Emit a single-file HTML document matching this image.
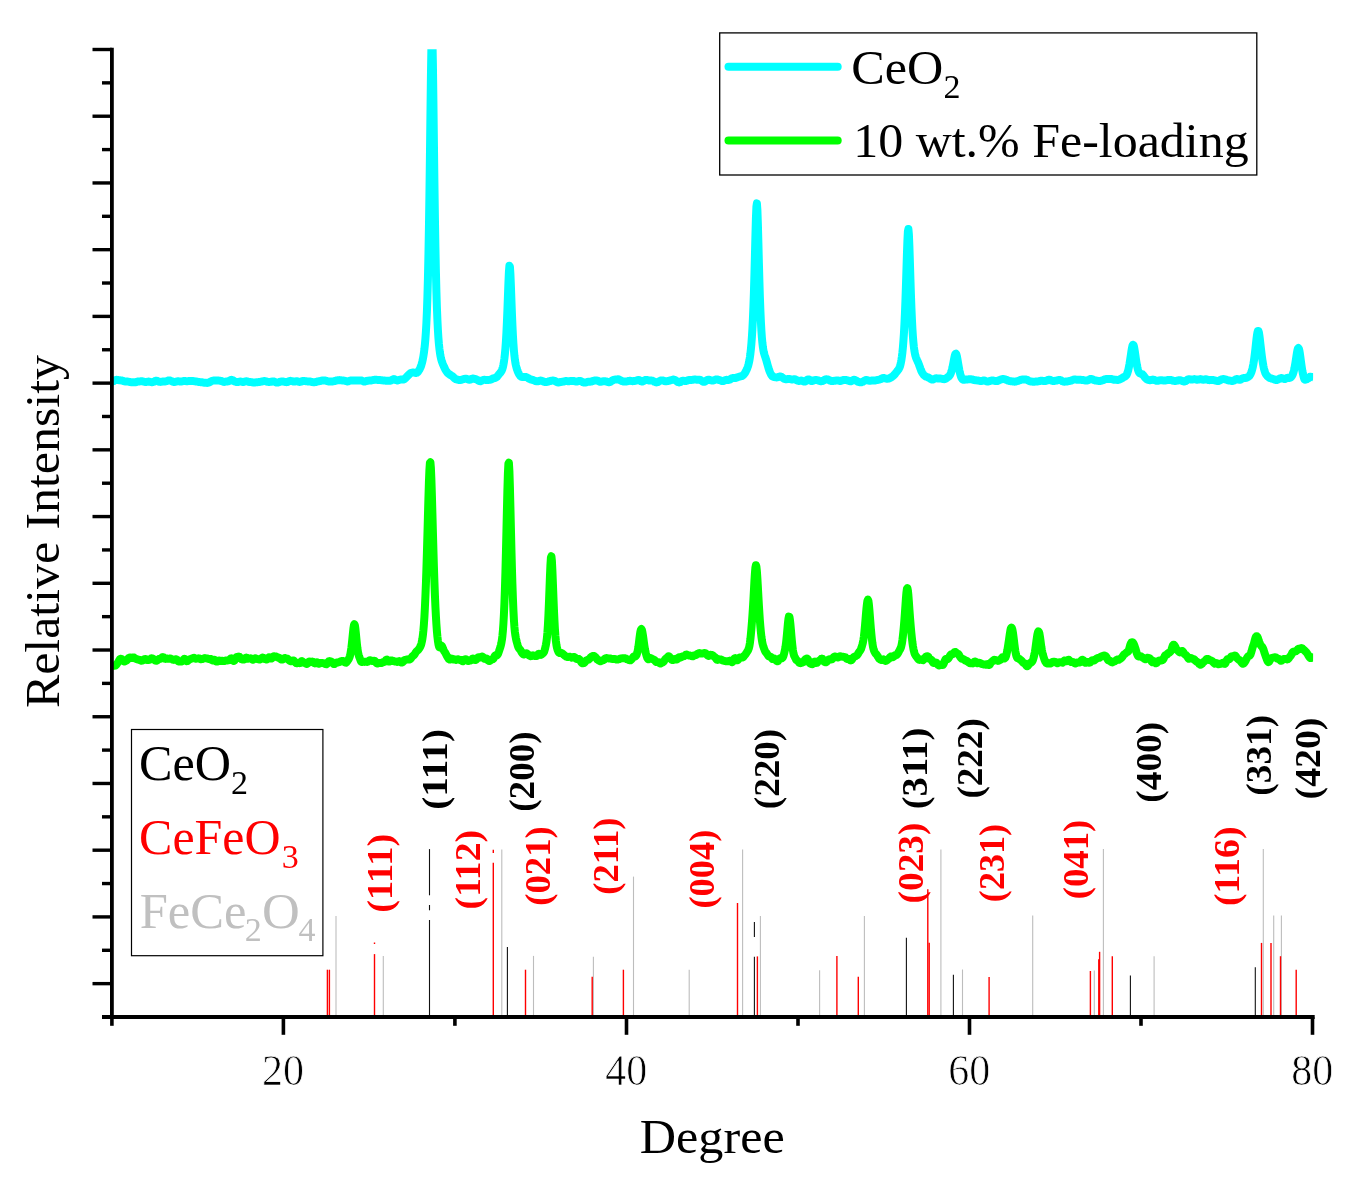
<!DOCTYPE html>
<html><head><meta charset="utf-8"><title>XRD</title>
<style>html,body{margin:0;padding:0;background:#fff}svg{display:block}</style></head>
<body>
<svg width="1351" height="1186" viewBox="0 0 1351 1186">
<rect width="1351" height="1186" fill="#fff"/>
<defs><clipPath id="pc"><rect x="111.9" y="49.2" width="1201.2" height="967.8"/></clipPath></defs>
<g stroke="#bdbdbd" stroke-width="1.1">
<line x1="336" y1="916.1" x2="336" y2="1017.0"/>
<line x1="383.3" y1="955.9" x2="383.3" y2="1017.0"/>
<line x1="501.8" y1="849.4" x2="501.8" y2="1017.0"/>
<line x1="533.5" y1="955.9" x2="533.5" y2="1017.0"/>
<line x1="593.4" y1="956.7" x2="593.4" y2="1017.0"/>
<line x1="633.5" y1="876.6" x2="633.5" y2="1017.0"/>
<line x1="689.2" y1="969.7" x2="689.2" y2="1017.0"/>
<line x1="742.6" y1="849.4" x2="742.6" y2="1017.0"/>
<line x1="760.4" y1="916.1" x2="760.4" y2="1017.0"/>
<line x1="819.6" y1="970.2" x2="819.6" y2="1017.0"/>
<line x1="864.4" y1="916.1" x2="864.4" y2="1017.0"/>
<line x1="940.9" y1="849.4" x2="940.9" y2="1017.0"/>
<line x1="962.5" y1="969.5" x2="962.5" y2="1017.0"/>
<line x1="1032.7" y1="915.6" x2="1032.7" y2="1017.0"/>
<line x1="1094.3" y1="970.4" x2="1094.3" y2="1017.0"/>
<line x1="1103.4" y1="849" x2="1103.4" y2="1017.0"/>
<line x1="1154.1" y1="956.2" x2="1154.1" y2="1017.0"/>
<line x1="1263.3" y1="849" x2="1263.3" y2="1017.0"/>
<line x1="1273.7" y1="915.6" x2="1273.7" y2="1017.0"/>
<line x1="1281.4" y1="915.6" x2="1281.4" y2="1017.0"/>
</g>
<g stroke="#111" stroke-width="1.1">
<line x1="429.5" y1="849.1" x2="429.5" y2="895.3"/>
<line x1="429.5" y1="905" x2="429.5" y2="910.3"/>
<line x1="429.5" y1="920" x2="429.5" y2="1016"/>
<line x1="507.4" y1="947.1" x2="507.4" y2="1016"/>
<line x1="754.4" y1="921.9" x2="754.4" y2="937"/>
<line x1="754.4" y1="956.7" x2="754.4" y2="1016"/>
<line x1="906.4" y1="937.8" x2="906.4" y2="1016"/>
<line x1="953.4" y1="974.8" x2="953.4" y2="1016"/>
<line x1="1130.4" y1="975.4" x2="1130.4" y2="1016"/>
<line x1="1255.3" y1="967.2" x2="1255.3" y2="1016"/>
</g>
<g stroke="#ff0000" stroke-width="1.4">
<line x1="327.4" y1="969.7" x2="327.4" y2="1017.0"/>
<line x1="329.4" y1="969.7" x2="329.4" y2="1017.0"/>
<line x1="374.5" y1="954.1" x2="374.5" y2="1017.0"/>
<line x1="493.3" y1="862.8" x2="493.3" y2="1017.0"/>
<line x1="525.5" y1="969.7" x2="525.5" y2="1017.0"/>
<line x1="592.2" y1="976.8" x2="592.2" y2="1017.0"/>
<line x1="623.4" y1="969.7" x2="623.4" y2="1017.0"/>
<line x1="737.5" y1="903" x2="737.5" y2="1017.0"/>
<line x1="757.4" y1="956.4" x2="757.4" y2="1017.0"/>
<line x1="836.9" y1="955.9" x2="836.9" y2="1017.0"/>
<line x1="858.3" y1="976.8" x2="858.3" y2="1017.0"/>
<line x1="927.8" y1="889.2" x2="927.8" y2="1017.0"/>
<line x1="929.2" y1="942.8" x2="929.2" y2="1017.0"/>
<line x1="989.1" y1="976.9" x2="989.1" y2="1017.0"/>
<line x1="1090.4" y1="971" x2="1090.4" y2="1017.0"/>
<line x1="1098.8" y1="959.2" x2="1098.8" y2="1017.0"/>
<line x1="1099.6" y1="951.8" x2="1099.6" y2="1017.0"/>
<line x1="1112.3" y1="956.2" x2="1112.3" y2="1017.0"/>
<line x1="1261.5" y1="942.9" x2="1261.5" y2="1017.0"/>
<line x1="1271" y1="942.9" x2="1271" y2="1017.0"/>
<line x1="1280.5" y1="956.2" x2="1280.5" y2="1017.0"/>
<line x1="1296.2" y1="969.8" x2="1296.2" y2="1017.0"/>
<line x1="493.3" y1="849.7" x2="493.3" y2="853"/><line x1="374.5" y1="942.5" x2="374.5" y2="944"/>
</g>
<g clip-path="url(#pc)" fill="none" stroke-width="8" stroke-linejoin="round" stroke-linecap="butt">
<path stroke="#00ffff" d="M111.9 381.6 L112.4 381.5 L112.9 381.4 L113.4 381.2 L113.9 380.9 L114.4 380.6 L114.9 380.3 L115.4 380.1 L115.9 379.9 L116.4 379.8 L116.9 379.8 L117.4 379.9 L117.9 380.0 L118.4 380.1 L118.9 380.2 L119.4 380.3 L119.9 380.3 L120.4 380.3 L120.9 380.4 L121.4 380.4 L121.9 380.5 L122.4 380.6 L122.9 380.8 L123.4 381.0 L123.9 381.1 L124.4 381.3 L124.9 381.4 L125.4 381.5 L125.9 381.6 L126.4 381.6 L126.9 381.6 L127.4 381.6 L127.9 381.6 L128.4 381.7 L128.9 381.8 L129.4 381.9 L129.9 382.0 L130.4 382.1 L130.9 382.2 L131.4 382.3 L131.9 382.3 L132.4 382.3 L132.9 382.3 L133.4 382.3 L133.9 382.3 L134.4 382.3 L134.9 382.3 L135.4 382.3 L135.9 382.1 L136.4 382.0 L136.9 381.8 L137.4 381.6 L137.9 381.5 L138.4 381.4 L138.9 381.4 L139.4 381.4 L139.9 381.4 L140.4 381.3 L140.9 381.3 L141.4 381.2 L141.9 381.2 L142.4 381.3 L142.9 381.4 L143.4 381.6 L143.9 381.7 L144.4 381.8 L144.9 381.9 L145.4 382.0 L145.9 382.0 L146.4 381.9 L146.9 381.8 L147.4 381.8 L147.9 381.7 L148.4 381.6 L148.9 381.6 L149.4 381.7 L149.9 381.8 L150.4 381.9 L150.9 382.1 L151.4 382.2 L151.9 382.2 L152.4 382.2 L152.9 382.1 L153.4 381.9 L153.9 381.7 L154.4 381.4 L154.9 381.1 L155.4 380.8 L155.9 380.7 L156.4 380.7 L156.9 380.8 L157.4 381.0 L157.9 381.2 L158.4 381.5 L158.9 381.6 L159.4 381.8 L159.9 381.8 L160.4 381.9 L160.9 381.8 L161.4 381.8 L161.9 381.7 L162.4 381.6 L162.9 381.6 L163.4 381.5 L163.9 381.4 L164.4 381.4 L164.9 381.4 L165.4 381.4 L165.9 381.3 L166.4 381.2 L166.9 381.1 L167.4 380.9 L167.9 380.7 L168.4 380.5 L168.9 380.4 L169.4 380.4 L169.9 380.5 L170.4 380.7 L170.9 380.9 L171.4 381.1 L171.9 381.3 L172.4 381.5 L172.9 381.7 L173.4 381.9 L173.9 382.0 L174.4 382.0 L174.9 381.9 L175.4 381.8 L175.9 381.7 L176.4 381.6 L176.9 381.4 L177.4 381.3 L177.9 381.3 L178.4 381.3 L178.9 381.3 L179.4 381.4 L179.9 381.5 L180.4 381.5 L180.9 381.5 L181.4 381.5 L181.9 381.4 L182.4 381.3 L182.9 381.2 L183.4 381.1 L183.9 381.0 L184.4 381.0 L184.9 381.0 L185.4 381.1 L185.9 381.2 L186.4 381.2 L186.9 381.3 L187.4 381.2 L187.9 381.2 L188.4 381.1 L188.9 381.1 L189.4 381.0 L189.9 381.0 L190.4 381.1 L190.9 381.1 L191.4 381.1 L191.9 381.1 L192.4 381.1 L192.9 381.1 L193.4 381.1 L193.9 381.2 L194.4 381.2 L194.9 381.3 L195.4 381.4 L195.9 381.5 L196.4 381.5 L196.9 381.6 L197.4 381.7 L197.9 381.8 L198.4 381.9 L198.9 382.0 L199.4 382.1 L199.9 382.1 L200.4 382.2 L200.9 382.2 L201.4 382.2 L201.9 382.2 L202.4 382.3 L202.9 382.4 L203.4 382.6 L203.9 382.7 L204.4 382.8 L204.9 382.8 L205.4 382.8 L205.9 382.8 L206.4 382.8 L206.9 382.9 L207.4 382.9 L207.9 382.8 L208.4 382.7 L208.9 382.6 L209.4 382.3 L209.9 382.0 L210.4 381.7 L210.9 381.4 L211.4 381.1 L211.9 380.9 L212.4 380.8 L212.9 380.7 L213.4 380.6 L213.9 380.6 L214.4 380.6 L214.9 380.5 L215.4 380.5 L215.9 380.4 L216.4 380.4 L216.9 380.4 L217.4 380.4 L217.9 380.5 L218.4 380.6 L218.9 380.6 L219.4 380.7 L219.9 380.7 L220.4 380.8 L220.9 380.9 L221.4 381.0 L221.9 381.2 L222.4 381.4 L222.9 381.6 L223.4 381.8 L223.9 381.9 L224.4 381.9 L224.9 381.8 L225.4 381.7 L225.9 381.6 L226.4 381.5 L226.9 381.5 L227.4 381.4 L227.9 381.4 L228.4 381.3 L228.9 381.1 L229.4 380.8 L229.9 380.4 L230.4 380.1 L230.9 379.9 L231.4 379.8 L231.9 379.9 L232.4 380.1 L232.9 380.3 L233.4 380.7 L233.9 381.0 L234.4 381.3 L234.9 381.5 L235.4 381.7 L235.9 381.9 L236.4 382.0 L236.9 382.0 L237.4 382.0 L237.9 382.0 L238.4 381.9 L238.9 381.8 L239.4 381.7 L239.9 381.6 L240.4 381.6 L240.9 381.6 L241.4 381.7 L241.9 381.8 L242.4 381.9 L242.9 382.0 L243.4 382.0 L243.9 381.9 L244.4 381.7 L244.9 381.6 L245.4 381.4 L245.9 381.3 L246.4 381.3 L246.9 381.3 L247.4 381.4 L247.9 381.6 L248.4 381.8 L248.9 381.9 L249.4 382.0 L249.9 382.1 L250.4 382.1 L250.9 382.1 L251.4 382.2 L251.9 382.2 L252.4 382.3 L252.9 382.4 L253.4 382.5 L253.9 382.5 L254.4 382.5 L254.9 382.4 L255.4 382.4 L255.9 382.3 L256.4 382.3 L256.9 382.3 L257.4 382.2 L257.9 382.2 L258.4 382.1 L258.9 382.1 L259.4 382.0 L259.9 381.9 L260.4 381.8 L260.9 381.7 L261.4 381.6 L261.9 381.5 L262.4 381.4 L262.9 381.3 L263.4 381.2 L263.9 381.1 L264.4 381.1 L264.9 381.1 L265.4 381.2 L265.9 381.3 L266.4 381.5 L266.9 381.6 L267.4 381.8 L267.9 381.8 L268.4 381.9 L268.9 381.9 L269.4 381.9 L269.9 381.9 L270.4 381.8 L270.9 381.8 L271.4 381.8 L271.9 381.6 L272.4 381.5 L272.9 381.4 L273.4 381.4 L273.9 381.5 L274.4 381.6 L274.9 381.9 L275.4 382.1 L275.9 382.4 L276.4 382.6 L276.9 382.6 L277.4 382.6 L277.9 382.5 L278.4 382.3 L278.9 382.1 L279.4 382.0 L279.9 381.8 L280.4 381.7 L280.9 381.6 L281.4 381.6 L281.9 381.5 L282.4 381.5 L282.9 381.5 L283.4 381.6 L283.9 381.7 L284.4 381.8 L284.9 381.9 L285.4 382.0 L285.9 382.1 L286.4 382.2 L286.9 382.1 L287.4 382.0 L287.9 381.8 L288.4 381.5 L288.9 381.3 L289.4 381.1 L289.9 380.9 L290.4 380.8 L290.9 380.9 L291.4 380.9 L291.9 381.1 L292.4 381.2 L292.9 381.3 L293.4 381.5 L293.9 381.6 L294.4 381.6 L294.9 381.5 L295.4 381.4 L295.9 381.3 L296.4 381.2 L296.9 381.2 L297.4 381.3 L297.9 381.5 L298.4 381.6 L298.9 381.8 L299.4 381.9 L299.9 381.9 L300.4 381.8 L300.9 381.7 L301.4 381.5 L301.9 381.2 L302.4 381.1 L302.9 381.0 L303.4 381.0 L303.9 381.0 L304.4 381.1 L304.9 381.1 L305.4 381.2 L305.9 381.2 L306.4 381.3 L306.9 381.3 L307.4 381.4 L307.9 381.4 L308.4 381.4 L308.9 381.5 L309.4 381.5 L309.9 381.5 L310.4 381.6 L310.9 381.7 L311.4 381.8 L311.9 382.0 L312.4 382.1 L312.9 382.2 L313.4 382.2 L313.9 382.3 L314.4 382.2 L314.9 382.2 L315.4 382.1 L315.9 382.0 L316.4 381.8 L316.9 381.6 L317.4 381.5 L317.9 381.4 L318.4 381.3 L318.9 381.2 L319.4 381.2 L319.9 381.1 L320.4 381.0 L320.9 380.9 L321.4 380.7 L321.9 380.6 L322.4 380.5 L322.9 380.4 L323.4 380.4 L323.9 380.4 L324.4 380.4 L324.9 380.5 L325.4 380.6 L325.9 380.7 L326.4 380.8 L326.9 381.0 L327.4 381.1 L327.9 381.3 L328.4 381.4 L328.9 381.5 L329.4 381.5 L329.9 381.6 L330.4 381.5 L330.9 381.5 L331.4 381.5 L331.9 381.5 L332.4 381.4 L332.9 381.4 L333.4 381.3 L333.9 381.2 L334.4 381.1 L334.9 381.0 L335.4 380.8 L335.9 380.7 L336.4 380.5 L336.9 380.4 L337.4 380.3 L337.9 380.2 L338.4 380.2 L338.9 380.2 L339.4 380.1 L339.9 380.2 L340.4 380.2 L340.9 380.3 L341.4 380.3 L341.9 380.4 L342.4 380.5 L342.9 380.5 L343.4 380.6 L343.9 380.6 L344.4 380.7 L344.9 380.8 L345.4 380.9 L345.9 381.1 L346.4 381.2 L346.9 381.4 L347.4 381.4 L347.9 381.4 L348.4 381.3 L348.9 381.1 L349.4 380.9 L349.9 380.7 L350.4 380.6 L350.9 380.5 L351.4 380.5 L351.9 380.5 L352.4 380.5 L352.9 380.4 L353.4 380.4 L353.9 380.4 L354.4 380.4 L354.9 380.4 L355.4 380.4 L355.9 380.4 L356.4 380.5 L356.9 380.5 L357.4 380.6 L357.9 380.6 L358.4 380.6 L358.9 380.6 L359.4 380.5 L359.9 380.5 L360.4 380.4 L360.9 380.4 L361.4 380.5 L361.9 380.7 L362.4 380.9 L362.9 381.1 L363.4 381.3 L363.9 381.5 L364.4 381.5 L364.9 381.5 L365.4 381.4 L365.9 381.2 L366.4 381.0 L366.9 380.9 L367.4 380.7 L367.9 380.7 L368.4 380.7 L368.9 380.6 L369.4 380.6 L369.9 380.6 L370.4 380.5 L370.9 380.5 L371.4 380.4 L371.9 380.3 L372.4 380.2 L372.9 380.1 L373.4 380.0 L373.9 379.9 L374.4 379.8 L374.9 379.7 L375.4 379.7 L375.9 379.7 L376.4 379.8 L376.9 379.8 L377.4 379.9 L377.9 380.0 L378.4 380.0 L378.9 380.0 L379.4 380.0 L379.9 380.1 L380.4 380.1 L380.9 380.2 L381.4 380.2 L381.9 380.3 L382.4 380.3 L382.9 380.4 L383.4 380.4 L383.9 380.5 L384.4 380.5 L384.9 380.6 L385.4 380.7 L385.9 380.7 L386.4 380.7 L386.9 380.8 L387.4 380.8 L387.9 380.8 L388.4 380.8 L388.9 380.8 L389.4 380.8 L389.9 380.8 L390.4 380.7 L390.9 380.6 L391.4 380.3 L391.9 380.0 L392.4 379.7 L392.9 379.4 L393.4 379.2 L393.9 379.1 L394.4 379.2 L394.9 379.4 L395.4 379.6 L395.9 379.9 L396.4 380.2 L396.9 380.4 L397.4 380.5 L397.9 380.4 L398.4 380.2 L398.9 380.0 L399.4 379.8 L399.9 379.7 L400.4 379.6 L400.9 379.6 L401.4 379.6 L401.9 379.6 L402.4 379.6 L402.9 379.6 L403.4 379.5 L403.9 379.3 L404.4 379.0 L404.9 378.7 L405.4 378.2 L405.9 377.8 L406.4 377.2 L406.9 376.7 L407.4 376.2 L407.9 375.7 L408.4 375.2 L408.9 374.6 L409.4 374.1 L409.9 373.7 L410.4 373.3 L410.9 373.0 L411.4 372.8 L411.9 372.7 L412.4 372.6 L412.9 372.6 L413.4 372.6 L413.9 372.6 L414.4 372.7 L414.9 372.8 L415.4 372.9 L415.9 373.0 L416.4 372.9 L416.9 372.7 L417.4 372.4 L417.9 371.9 L418.4 371.2 L418.9 370.5 L419.4 369.7 L419.9 368.7 L420.4 367.6 L420.9 366.4 L421.4 364.9 L421.9 363.2 L422.4 361.2 L422.9 358.9 L423.4 356.1 L423.9 352.9 L424.4 349.1 L424.9 344.5 L425.4 338.8 L425.9 331.8 L426.4 322.9 L426.9 311.7 L427.4 297.4 L427.9 279.4 L428.4 256.9 L428.9 229.2 L429.4 196.2 L429.9 158.2 L430.4 117.3 L430.9 77.8 L431.4 46.8 L431.9 32.1 L432.4 38.4 L432.9 63.6 L433.4 100.6 L433.9 141.6 L434.4 181.2 L434.9 216.5 L435.4 246.6 L435.9 271.4 L436.4 291.4 L436.9 307.3 L437.4 319.9 L437.9 329.9 L438.4 337.7 L438.9 343.9 L439.4 348.7 L439.9 352.5 L440.4 355.6 L440.9 358.0 L441.4 360.0 L441.9 361.6 L442.4 363.0 L442.9 364.3 L443.4 365.4 L443.9 366.5 L444.4 367.6 L444.9 368.6 L445.4 369.6 L445.9 370.5 L446.4 371.3 L446.9 372.0 L447.4 372.7 L447.9 373.2 L448.4 373.6 L448.9 374.0 L449.4 374.3 L449.9 374.7 L450.4 375.0 L450.9 375.3 L451.4 375.6 L451.9 375.9 L452.4 376.2 L452.9 376.7 L453.4 377.1 L453.9 377.6 L454.4 378.1 L454.9 378.6 L455.4 378.9 L455.9 379.2 L456.4 379.4 L456.9 379.5 L457.4 379.6 L457.9 379.7 L458.4 379.9 L458.9 380.0 L459.4 380.1 L459.9 380.1 L460.4 380.0 L460.9 379.9 L461.4 379.8 L461.9 379.6 L462.4 379.4 L462.9 379.3 L463.4 379.1 L463.9 379.0 L464.4 378.9 L464.9 378.8 L465.4 378.7 L465.9 378.7 L466.4 378.7 L466.9 378.9 L467.4 379.1 L467.9 379.3 L468.4 379.6 L468.9 379.7 L469.4 379.8 L469.9 379.7 L470.4 379.5 L470.9 379.2 L471.4 379.0 L471.9 378.8 L472.4 378.6 L472.9 378.6 L473.4 378.6 L473.9 378.7 L474.4 378.8 L474.9 379.0 L475.4 379.1 L475.9 379.2 L476.4 379.4 L476.9 379.6 L477.4 379.9 L477.9 380.2 L478.4 380.6 L478.9 380.9 L479.4 381.1 L479.9 381.2 L480.4 381.2 L480.9 381.0 L481.4 380.8 L481.9 380.5 L482.4 380.3 L482.9 380.1 L483.4 379.9 L483.9 379.8 L484.4 379.8 L484.9 379.8 L485.4 379.9 L485.9 380.0 L486.4 380.0 L486.9 380.0 L487.4 380.0 L487.9 380.0 L488.4 379.9 L488.9 379.9 L489.4 379.8 L489.9 379.8 L490.4 379.7 L490.9 379.5 L491.4 379.3 L491.9 379.0 L492.4 378.8 L492.9 378.5 L493.4 378.3 L493.9 378.2 L494.4 378.1 L494.9 378.0 L495.4 377.8 L495.9 377.6 L496.4 377.2 L496.9 376.8 L497.4 376.3 L497.9 375.7 L498.4 375.0 L498.9 374.4 L499.4 373.8 L499.9 373.2 L500.4 372.7 L500.9 372.0 L501.4 371.2 L501.9 370.2 L502.4 368.8 L502.9 367.1 L503.4 364.8 L503.9 362.0 L504.4 358.5 L504.9 354.0 L505.4 348.5 L505.9 341.5 L506.4 332.9 L506.9 322.5 L507.4 310.3 L507.9 296.8 L508.4 283.3 L508.9 272.1 L509.4 265.8 L509.9 266.6 L510.4 274.0 L510.9 286.0 L511.4 299.7 L511.9 313.0 L512.4 325.0 L512.9 335.2 L513.4 343.6 L513.9 350.3 L514.4 355.6 L514.9 359.7 L515.4 362.9 L515.9 365.4 L516.4 367.4 L516.9 369.1 L517.4 370.5 L517.9 371.8 L518.4 372.9 L518.9 373.9 L519.4 374.8 L519.9 375.5 L520.4 376.1 L520.9 376.5 L521.4 376.8 L521.9 376.9 L522.4 377.0 L522.9 377.0 L523.4 377.0 L523.9 377.0 L524.4 376.9 L524.9 376.9 L525.4 376.9 L525.9 377.0 L526.4 377.1 L526.9 377.4 L527.4 377.6 L527.9 377.9 L528.4 378.2 L528.9 378.6 L529.4 378.9 L529.9 379.1 L530.4 379.3 L530.9 379.5 L531.4 379.6 L531.9 379.7 L532.4 379.8 L532.9 380.0 L533.4 380.2 L533.9 380.4 L534.4 380.6 L534.9 380.8 L535.4 381.0 L535.9 381.2 L536.4 381.3 L536.9 381.3 L537.4 381.3 L537.9 381.3 L538.4 381.2 L538.9 381.0 L539.4 380.9 L539.9 380.7 L540.4 380.6 L540.9 380.6 L541.4 380.7 L541.9 380.8 L542.4 381.1 L542.9 381.3 L543.4 381.5 L543.9 381.7 L544.4 381.9 L544.9 382.0 L545.4 382.1 L545.9 382.1 L546.4 382.0 L546.9 381.9 L547.4 381.8 L547.9 381.6 L548.4 381.5 L548.9 381.3 L549.4 381.2 L549.9 381.1 L550.4 381.0 L550.9 380.8 L551.4 380.7 L551.9 380.7 L552.4 380.6 L552.9 380.6 L553.4 380.6 L553.9 380.7 L554.4 380.8 L554.9 381.0 L555.4 381.2 L555.9 381.5 L556.4 381.8 L556.9 382.1 L557.4 382.3 L557.9 382.4 L558.4 382.5 L558.9 382.4 L559.4 382.3 L559.9 382.1 L560.4 382.0 L560.9 381.9 L561.4 381.9 L561.9 381.8 L562.4 381.7 L562.9 381.7 L563.4 381.6 L563.9 381.5 L564.4 381.3 L564.9 381.2 L565.4 381.1 L565.9 381.1 L566.4 381.1 L566.9 381.1 L567.4 381.2 L567.9 381.2 L568.4 381.3 L568.9 381.3 L569.4 381.2 L569.9 381.1 L570.4 381.1 L570.9 381.0 L571.4 381.0 L571.9 381.0 L572.4 380.9 L572.9 380.9 L573.4 381.0 L573.9 381.1 L574.4 381.1 L574.9 381.3 L575.4 381.4 L575.9 381.4 L576.4 381.5 L576.9 381.5 L577.4 381.4 L577.9 381.3 L578.4 381.1 L578.9 381.0 L579.4 381.0 L579.9 381.0 L580.4 381.0 L580.9 381.2 L581.4 381.4 L581.9 381.6 L582.4 381.9 L582.9 382.2 L583.4 382.4 L583.9 382.6 L584.4 382.6 L584.9 382.6 L585.4 382.6 L585.9 382.4 L586.4 382.3 L586.9 382.1 L587.4 381.9 L587.9 381.8 L588.4 381.7 L588.9 381.7 L589.4 381.7 L589.9 381.7 L590.4 381.7 L590.9 381.6 L591.4 381.5 L591.9 381.3 L592.4 381.2 L592.9 381.0 L593.4 380.8 L593.9 380.7 L594.4 380.6 L594.9 380.5 L595.4 380.4 L595.9 380.4 L596.4 380.4 L596.9 380.4 L597.4 380.6 L597.9 380.8 L598.4 381.1 L598.9 381.3 L599.4 381.5 L599.9 381.7 L600.4 381.7 L600.9 381.7 L601.4 381.7 L601.9 381.6 L602.4 381.4 L602.9 381.3 L603.4 381.2 L603.9 381.2 L604.4 381.2 L604.9 381.2 L605.4 381.3 L605.9 381.4 L606.4 381.5 L606.9 381.7 L607.4 381.9 L607.9 382.1 L608.4 382.2 L608.9 382.3 L609.4 382.2 L609.9 382.0 L610.4 381.8 L610.9 381.5 L611.4 381.1 L611.9 380.8 L612.4 380.5 L612.9 380.2 L613.4 379.9 L613.9 379.8 L614.4 379.7 L614.9 379.6 L615.4 379.6 L615.9 379.5 L616.4 379.4 L616.9 379.4 L617.4 379.3 L617.9 379.3 L618.4 379.3 L618.9 379.5 L619.4 379.7 L619.9 380.0 L620.4 380.2 L620.9 380.5 L621.4 380.7 L621.9 381.0 L622.4 381.2 L622.9 381.4 L623.4 381.5 L623.9 381.6 L624.4 381.6 L624.9 381.6 L625.4 381.6 L625.9 381.5 L626.4 381.4 L626.9 381.4 L627.4 381.3 L627.9 381.2 L628.4 381.0 L628.9 380.9 L629.4 380.8 L629.9 380.8 L630.4 380.8 L630.9 380.9 L631.4 381.0 L631.9 381.1 L632.4 381.2 L632.9 381.2 L633.4 381.1 L633.9 381.1 L634.4 381.0 L634.9 380.9 L635.4 380.8 L635.9 380.7 L636.4 380.6 L636.9 380.4 L637.4 380.2 L637.9 380.1 L638.4 380.0 L638.9 380.0 L639.4 380.2 L639.9 380.5 L640.4 380.9 L640.9 381.2 L641.4 381.4 L641.9 381.5 L642.4 381.5 L642.9 381.3 L643.4 381.1 L643.9 380.8 L644.4 380.5 L644.9 380.2 L645.4 380.0 L645.9 379.9 L646.4 379.9 L646.9 380.0 L647.4 380.1 L647.9 380.2 L648.4 380.4 L648.9 380.4 L649.4 380.5 L649.9 380.5 L650.4 380.5 L650.9 380.4 L651.4 380.5 L651.9 380.5 L652.4 380.7 L652.9 380.9 L653.4 381.1 L653.9 381.4 L654.4 381.7 L654.9 381.9 L655.4 382.1 L655.9 382.3 L656.4 382.4 L656.9 382.3 L657.4 382.2 L657.9 382.0 L658.4 381.7 L658.9 381.4 L659.4 381.1 L659.9 380.9 L660.4 380.7 L660.9 380.5 L661.4 380.4 L661.9 380.4 L662.4 380.4 L662.9 380.5 L663.4 380.7 L663.9 380.9 L664.4 381.0 L664.9 381.2 L665.4 381.3 L665.9 381.3 L666.4 381.3 L666.9 381.2 L667.4 381.1 L667.9 381.0 L668.4 380.9 L668.9 380.8 L669.4 380.7 L669.9 380.5 L670.4 380.4 L670.9 380.2 L671.4 380.1 L671.9 379.9 L672.4 379.8 L672.9 379.6 L673.4 379.6 L673.9 379.6 L674.4 379.8 L674.9 380.0 L675.4 380.3 L675.9 380.6 L676.4 381.0 L676.9 381.3 L677.4 381.7 L677.9 382.0 L678.4 382.2 L678.9 382.4 L679.4 382.4 L679.9 382.2 L680.4 382.0 L680.9 381.7 L681.4 381.3 L681.9 381.0 L682.4 380.8 L682.9 380.7 L683.4 380.7 L683.9 380.8 L684.4 380.9 L684.9 381.0 L685.4 381.0 L685.9 381.0 L686.4 380.8 L686.9 380.7 L687.4 380.5 L687.9 380.3 L688.4 380.1 L688.9 379.9 L689.4 379.9 L689.9 379.9 L690.4 379.9 L690.9 379.9 L691.4 379.9 L691.9 379.9 L692.4 379.8 L692.9 379.8 L693.4 379.7 L693.9 379.6 L694.4 379.6 L694.9 379.6 L695.4 379.6 L695.9 379.6 L696.4 379.7 L696.9 379.7 L697.4 379.7 L697.9 379.7 L698.4 379.7 L698.9 379.7 L699.4 379.7 L699.9 379.8 L700.4 380.0 L700.9 380.3 L701.4 380.6 L701.9 380.9 L702.4 381.2 L702.9 381.5 L703.4 381.7 L703.9 381.7 L704.4 381.7 L704.9 381.5 L705.4 381.2 L705.9 380.9 L706.4 380.6 L706.9 380.2 L707.4 379.9 L707.9 379.8 L708.4 379.7 L708.9 379.7 L709.4 379.8 L709.9 380.0 L710.4 380.1 L710.9 380.3 L711.4 380.4 L711.9 380.5 L712.4 380.5 L712.9 380.5 L713.4 380.4 L713.9 380.3 L714.4 380.1 L714.9 379.9 L715.4 379.6 L715.9 379.5 L716.4 379.4 L716.9 379.4 L717.4 379.5 L717.9 379.7 L718.4 379.8 L718.9 380.0 L719.4 380.1 L719.9 380.2 L720.4 380.4 L720.9 380.6 L721.4 380.8 L721.9 381.0 L722.4 381.1 L722.9 381.1 L723.4 381.0 L723.9 380.9 L724.4 380.6 L724.9 380.3 L725.4 380.1 L725.9 379.9 L726.4 379.8 L726.9 379.8 L727.4 379.9 L727.9 379.9 L728.4 379.9 L728.9 379.9 L729.4 379.7 L729.9 379.5 L730.4 379.2 L730.9 378.9 L731.4 378.5 L731.9 378.3 L732.4 378.1 L732.9 378.1 L733.4 378.1 L733.9 378.1 L734.4 378.1 L734.9 378.1 L735.4 378.0 L735.9 377.8 L736.4 377.7 L736.9 377.5 L737.4 377.3 L737.9 377.1 L738.4 376.9 L738.9 376.8 L739.4 376.6 L739.9 376.5 L740.4 376.4 L740.9 376.3 L741.4 376.2 L741.9 376.0 L742.4 375.7 L742.9 375.4 L743.4 375.0 L743.9 374.4 L744.4 373.8 L744.9 373.1 L745.4 372.2 L745.9 371.3 L746.4 370.3 L746.9 369.2 L747.4 367.9 L747.9 366.5 L748.4 364.8 L748.9 362.8 L749.4 360.4 L749.9 357.3 L750.4 353.6 L750.9 349.1 L751.4 343.6 L751.9 336.9 L752.4 328.9 L752.9 319.0 L753.4 307.0 L753.9 292.6 L754.4 275.6 L754.9 256.5 L755.4 236.7 L755.9 218.8 L756.4 206.6 L756.9 203.4 L757.4 210.1 L757.9 224.7 L758.4 243.4 L758.9 263.0 L759.4 281.4 L759.9 297.4 L760.4 310.8 L760.9 321.9 L761.4 330.7 L761.9 337.7 L762.4 343.1 L762.9 347.2 L763.4 350.3 L763.9 352.6 L764.4 354.4 L764.9 356.0 L765.4 357.4 L765.9 358.9 L766.4 360.6 L766.9 362.4 L767.4 364.2 L767.9 366.0 L768.4 367.8 L768.9 369.4 L769.4 370.8 L769.9 372.1 L770.4 373.2 L770.9 374.2 L771.4 375.1 L771.9 375.8 L772.4 376.3 L772.9 376.6 L773.4 376.9 L773.9 377.0 L774.4 377.1 L774.9 377.2 L775.4 377.3 L775.9 377.3 L776.4 377.4 L776.9 377.4 L777.4 377.3 L777.9 377.2 L778.4 377.0 L778.9 376.8 L779.4 376.6 L779.9 376.5 L780.4 376.5 L780.9 376.6 L781.4 376.8 L781.9 377.1 L782.4 377.5 L782.9 377.9 L783.4 378.3 L783.9 378.7 L784.4 378.9 L784.9 379.1 L785.4 379.2 L785.9 379.3 L786.4 379.3 L786.9 379.2 L787.4 379.1 L787.9 379.0 L788.4 379.0 L788.9 378.9 L789.4 379.0 L789.9 379.1 L790.4 379.2 L790.9 379.3 L791.4 379.4 L791.9 379.4 L792.4 379.4 L792.9 379.4 L793.4 379.3 L793.9 379.3 L794.4 379.3 L794.9 379.3 L795.4 379.5 L795.9 379.7 L796.4 380.0 L796.9 380.3 L797.4 380.5 L797.9 380.7 L798.4 380.9 L798.9 380.9 L799.4 380.9 L799.9 380.8 L800.4 380.7 L800.9 380.6 L801.4 380.6 L801.9 380.7 L802.4 380.9 L802.9 381.1 L803.4 381.4 L803.9 381.6 L804.4 381.6 L804.9 381.6 L805.4 381.3 L805.9 380.9 L806.4 380.5 L806.9 380.0 L807.4 379.6 L807.9 379.4 L808.4 379.4 L808.9 379.5 L809.4 379.8 L809.9 380.2 L810.4 380.6 L810.9 380.8 L811.4 381.0 L811.9 381.0 L812.4 380.9 L812.9 380.8 L813.4 380.5 L813.9 380.3 L814.4 380.2 L814.9 380.1 L815.4 380.1 L815.9 380.1 L816.4 380.1 L816.9 380.1 L817.4 380.2 L817.9 380.3 L818.4 380.5 L818.9 380.7 L819.4 380.9 L819.9 381.1 L820.4 381.2 L820.9 381.3 L821.4 381.2 L821.9 381.1 L822.4 381.0 L822.9 380.8 L823.4 380.5 L823.9 380.3 L824.4 380.0 L824.9 379.7 L825.4 379.4 L825.9 379.3 L826.4 379.3 L826.9 379.3 L827.4 379.4 L827.9 379.5 L828.4 379.7 L828.9 379.9 L829.4 380.2 L829.9 380.5 L830.4 380.7 L830.9 380.9 L831.4 381.1 L831.9 381.1 L832.4 381.1 L832.9 381.0 L833.4 380.9 L833.9 380.8 L834.4 380.8 L834.9 380.8 L835.4 380.7 L835.9 380.6 L836.4 380.5 L836.9 380.5 L837.4 380.4 L837.9 380.5 L838.4 380.6 L838.9 380.7 L839.4 380.9 L839.9 381.0 L840.4 381.0 L840.9 380.9 L841.4 380.7 L841.9 380.5 L842.4 380.3 L842.9 380.1 L843.4 380.0 L843.9 380.0 L844.4 379.9 L844.9 379.9 L845.4 380.0 L845.9 380.0 L846.4 380.1 L846.9 380.2 L847.4 380.3 L847.9 380.5 L848.4 380.7 L848.9 380.9 L849.4 381.1 L849.9 381.2 L850.4 381.3 L850.9 381.3 L851.4 381.1 L851.9 380.9 L852.4 380.5 L852.9 380.2 L853.4 380.0 L853.9 379.8 L854.4 379.8 L854.9 379.9 L855.4 380.1 L855.9 380.4 L856.4 380.7 L856.9 381.0 L857.4 381.4 L857.9 381.7 L858.4 381.9 L858.9 382.1 L859.4 382.2 L859.9 382.3 L860.4 382.3 L860.9 382.2 L861.4 382.2 L861.9 382.0 L862.4 381.9 L862.9 381.7 L863.4 381.4 L863.9 381.1 L864.4 380.7 L864.9 380.4 L865.4 380.2 L865.9 380.0 L866.4 380.0 L866.9 380.1 L867.4 380.2 L867.9 380.4 L868.4 380.6 L868.9 380.7 L869.4 380.8 L869.9 380.8 L870.4 380.8 L870.9 380.7 L871.4 380.6 L871.9 380.6 L872.4 380.6 L872.9 380.6 L873.4 380.6 L873.9 380.6 L874.4 380.5 L874.9 380.5 L875.4 380.4 L875.9 380.3 L876.4 380.2 L876.9 380.1 L877.4 380.0 L877.9 379.9 L878.4 379.8 L878.9 379.7 L879.4 379.6 L879.9 379.4 L880.4 379.2 L880.9 379.0 L881.4 378.7 L881.9 378.4 L882.4 378.2 L882.9 378.1 L883.4 378.0 L883.9 378.0 L884.4 378.1 L884.9 378.3 L885.4 378.4 L885.9 378.6 L886.4 378.7 L886.9 378.8 L887.4 378.8 L887.9 378.7 L888.4 378.6 L888.9 378.5 L889.4 378.3 L889.9 378.1 L890.4 377.8 L890.9 377.5 L891.4 377.2 L891.9 376.9 L892.4 376.5 L892.9 376.1 L893.4 375.7 L893.9 375.2 L894.4 374.7 L894.9 374.1 L895.4 373.5 L895.9 372.8 L896.4 372.2 L896.9 371.5 L897.4 370.9 L897.9 370.3 L898.4 369.6 L898.9 368.8 L899.4 367.8 L899.9 366.5 L900.4 364.8 L900.9 362.6 L901.4 359.9 L901.9 356.5 L902.4 352.4 L902.9 347.3 L903.4 341.2 L903.9 333.8 L904.4 324.8 L904.9 314.1 L905.4 301.5 L905.9 287.0 L906.4 271.1 L906.9 255.0 L907.4 240.8 L907.9 231.3 L908.4 229.0 L908.9 234.6 L909.4 246.6 L909.9 262.0 L910.4 278.4 L910.9 293.8 L911.4 307.4 L911.9 319.0 L912.4 328.6 L912.9 336.3 L913.4 342.4 L913.9 347.2 L914.4 350.8 L914.9 353.6 L915.4 355.7 L915.9 357.4 L916.4 358.7 L916.9 359.8 L917.4 360.9 L917.9 362.0 L918.4 363.1 L918.9 364.4 L919.4 365.8 L919.9 367.2 L920.4 368.6 L920.9 369.9 L921.4 371.1 L921.9 372.1 L922.4 373.0 L922.9 373.8 L923.4 374.5 L923.9 375.1 L924.4 375.5 L924.9 375.9 L925.4 376.2 L925.9 376.5 L926.4 376.7 L926.9 376.9 L927.4 377.1 L927.9 377.3 L928.4 377.6 L928.9 377.8 L929.4 378.1 L929.9 378.4 L930.4 378.7 L930.9 379.1 L931.4 379.3 L931.9 379.5 L932.4 379.6 L932.9 379.5 L933.4 379.3 L933.9 379.1 L934.4 378.9 L934.9 378.6 L935.4 378.4 L935.9 378.3 L936.4 378.3 L936.9 378.3 L937.4 378.4 L937.9 378.4 L938.4 378.4 L938.9 378.5 L939.4 378.5 L939.9 378.5 L940.4 378.6 L940.9 378.6 L941.4 378.7 L941.9 378.8 L942.4 378.9 L942.9 379.0 L943.4 379.1 L943.9 379.2 L944.4 379.2 L944.9 379.1 L945.4 378.9 L945.9 378.6 L946.4 378.2 L946.9 377.8 L947.4 377.4 L947.9 377.0 L948.4 376.7 L948.9 376.3 L949.4 375.8 L949.9 375.1 L950.4 374.2 L950.9 373.1 L951.4 371.6 L951.9 369.8 L952.4 367.7 L952.9 365.3 L953.4 362.7 L953.9 360.0 L954.4 357.4 L954.9 355.3 L955.4 353.9 L955.9 353.6 L956.4 354.4 L956.9 356.3 L957.4 358.9 L957.9 361.9 L958.4 364.9 L958.9 367.8 L959.4 370.5 L959.9 372.8 L960.4 374.8 L960.9 376.4 L961.4 377.6 L961.9 378.5 L962.4 379.2 L962.9 379.6 L963.4 379.8 L963.9 379.8 L964.4 379.8 L964.9 379.7 L965.4 379.6 L965.9 379.5 L966.4 379.5 L966.9 379.4 L967.4 379.4 L967.9 379.4 L968.4 379.3 L968.9 379.3 L969.4 379.3 L969.9 379.2 L970.4 379.2 L970.9 379.3 L971.4 379.3 L971.9 379.4 L972.4 379.5 L972.9 379.7 L973.4 379.8 L973.9 380.0 L974.4 380.1 L974.9 380.2 L975.4 380.3 L975.9 380.3 L976.4 380.3 L976.9 380.4 L977.4 380.4 L977.9 380.5 L978.4 380.6 L978.9 380.7 L979.4 380.8 L979.9 380.9 L980.4 381.0 L980.9 381.0 L981.4 381.0 L981.9 380.9 L982.4 380.8 L982.9 380.6 L983.4 380.5 L983.9 380.5 L984.4 380.5 L984.9 380.7 L985.4 380.9 L985.9 381.1 L986.4 381.3 L986.9 381.4 L987.4 381.5 L987.9 381.5 L988.4 381.4 L988.9 381.3 L989.4 381.2 L989.9 381.0 L990.4 380.9 L990.9 380.7 L991.4 380.6 L991.9 380.5 L992.4 380.5 L992.9 380.5 L993.4 380.6 L993.9 380.7 L994.4 380.8 L994.9 380.9 L995.4 381.0 L995.9 381.1 L996.4 381.1 L996.9 381.1 L997.4 381.0 L997.9 380.8 L998.4 380.6 L998.9 380.3 L999.4 380.1 L999.9 379.9 L1000.4 379.6 L1000.9 379.5 L1001.4 379.3 L1001.9 379.2 L1002.4 379.1 L1002.9 379.0 L1003.4 379.1 L1003.9 379.1 L1004.4 379.2 L1004.9 379.3 L1005.4 379.5 L1005.9 379.6 L1006.4 379.8 L1006.9 380.0 L1007.4 380.2 L1007.9 380.5 L1008.4 380.7 L1008.9 380.9 L1009.4 381.0 L1009.9 381.1 L1010.4 381.2 L1010.9 381.3 L1011.4 381.3 L1011.9 381.3 L1012.4 381.4 L1012.9 381.4 L1013.4 381.5 L1013.9 381.6 L1014.4 381.7 L1014.9 381.7 L1015.4 381.6 L1015.9 381.5 L1016.4 381.4 L1016.9 381.2 L1017.4 381.1 L1017.9 380.9 L1018.4 380.8 L1018.9 380.6 L1019.4 380.4 L1019.9 380.2 L1020.4 380.0 L1020.9 379.8 L1021.4 379.7 L1021.9 379.6 L1022.4 379.6 L1022.9 379.6 L1023.4 379.6 L1023.9 379.6 L1024.4 379.6 L1024.9 379.6 L1025.4 379.6 L1025.9 379.6 L1026.4 379.6 L1026.9 379.8 L1027.4 380.0 L1027.9 380.3 L1028.4 380.6 L1028.9 380.9 L1029.4 381.1 L1029.9 381.3 L1030.4 381.4 L1030.9 381.4 L1031.4 381.5 L1031.9 381.6 L1032.4 381.7 L1032.9 381.7 L1033.4 381.8 L1033.9 381.8 L1034.4 381.7 L1034.9 381.7 L1035.4 381.6 L1035.9 381.6 L1036.4 381.5 L1036.9 381.5 L1037.4 381.4 L1037.9 381.4 L1038.4 381.3 L1038.9 381.2 L1039.4 381.1 L1039.9 381.0 L1040.4 380.8 L1040.9 380.7 L1041.4 380.7 L1041.9 380.7 L1042.4 380.8 L1042.9 380.9 L1043.4 381.0 L1043.9 381.0 L1044.4 381.1 L1044.9 381.1 L1045.4 381.0 L1045.9 380.9 L1046.4 380.7 L1046.9 380.5 L1047.4 380.2 L1047.9 380.0 L1048.4 379.8 L1048.9 379.7 L1049.4 379.7 L1049.9 379.8 L1050.4 380.0 L1050.9 380.2 L1051.4 380.5 L1051.9 380.7 L1052.4 380.9 L1052.9 381.0 L1053.4 381.1 L1053.9 381.0 L1054.4 380.9 L1054.9 380.8 L1055.4 380.7 L1055.9 380.7 L1056.4 380.6 L1056.9 380.5 L1057.4 380.4 L1057.9 380.2 L1058.4 380.1 L1058.9 380.0 L1059.4 380.0 L1059.9 380.0 L1060.4 380.1 L1060.9 380.3 L1061.4 380.6 L1061.9 380.9 L1062.4 381.2 L1062.9 381.4 L1063.4 381.6 L1063.9 381.7 L1064.4 381.7 L1064.9 381.7 L1065.4 381.6 L1065.9 381.6 L1066.4 381.5 L1066.9 381.5 L1067.4 381.4 L1067.9 381.3 L1068.4 381.2 L1068.9 381.1 L1069.4 381.0 L1069.9 380.9 L1070.4 380.8 L1070.9 380.7 L1071.4 380.5 L1071.9 380.3 L1072.4 380.1 L1072.9 379.9 L1073.4 379.7 L1073.9 379.6 L1074.4 379.5 L1074.9 379.5 L1075.4 379.6 L1075.9 379.6 L1076.4 379.7 L1076.9 379.7 L1077.4 379.7 L1077.9 379.7 L1078.4 379.7 L1078.9 379.7 L1079.4 379.7 L1079.9 379.7 L1080.4 379.7 L1080.9 379.8 L1081.4 379.9 L1081.9 379.9 L1082.4 380.0 L1082.9 380.0 L1083.4 380.1 L1083.9 380.2 L1084.4 380.3 L1084.9 380.4 L1085.4 380.5 L1085.9 380.6 L1086.4 380.6 L1086.9 380.6 L1087.4 380.4 L1087.9 380.3 L1088.4 380.0 L1088.9 379.7 L1089.4 379.5 L1089.9 379.2 L1090.4 379.0 L1090.9 378.9 L1091.4 378.9 L1091.9 379.1 L1092.4 379.3 L1092.9 379.5 L1093.4 379.8 L1093.9 380.0 L1094.4 380.2 L1094.9 380.3 L1095.4 380.5 L1095.9 380.5 L1096.4 380.6 L1096.9 380.7 L1097.4 380.8 L1097.9 380.8 L1098.4 380.9 L1098.9 381.0 L1099.4 381.1 L1099.9 381.0 L1100.4 380.9 L1100.9 380.8 L1101.4 380.7 L1101.9 380.5 L1102.4 380.4 L1102.9 380.2 L1103.4 380.0 L1103.9 379.8 L1104.4 379.5 L1104.9 379.3 L1105.4 379.2 L1105.9 379.1 L1106.4 379.0 L1106.9 379.1 L1107.4 379.1 L1107.9 379.1 L1108.4 379.1 L1108.9 379.1 L1109.4 379.0 L1109.9 379.0 L1110.4 378.9 L1110.9 378.9 L1111.4 379.0 L1111.9 379.1 L1112.4 379.3 L1112.9 379.4 L1113.4 379.5 L1113.9 379.7 L1114.4 379.7 L1114.9 379.8 L1115.4 379.8 L1115.9 379.8 L1116.4 379.8 L1116.9 379.9 L1117.4 379.9 L1117.9 379.9 L1118.4 379.9 L1118.9 379.7 L1119.4 379.6 L1119.9 379.3 L1120.4 379.1 L1120.9 378.8 L1121.4 378.6 L1121.9 378.3 L1122.4 378.0 L1122.9 377.7 L1123.4 377.3 L1123.9 377.0 L1124.4 376.8 L1124.9 376.5 L1125.4 376.2 L1125.9 375.8 L1126.4 375.2 L1126.9 374.3 L1127.4 373.0 L1127.9 371.4 L1128.4 369.5 L1128.9 367.1 L1129.4 364.5 L1129.9 361.5 L1130.4 358.2 L1130.9 354.8 L1131.4 351.4 L1131.9 348.3 L1132.4 346.0 L1132.9 344.7 L1133.4 344.8 L1133.9 346.3 L1134.4 348.8 L1134.9 351.9 L1135.4 355.4 L1135.9 358.8 L1136.4 362.0 L1136.9 364.9 L1137.4 367.4 L1137.9 369.5 L1138.4 371.0 L1138.9 372.2 L1139.4 372.9 L1139.9 373.4 L1140.4 373.6 L1140.9 373.8 L1141.4 373.9 L1141.9 374.1 L1142.4 374.3 L1142.9 374.8 L1143.4 375.3 L1143.9 376.0 L1144.4 376.7 L1144.9 377.4 L1145.4 378.0 L1145.9 378.5 L1146.4 378.9 L1146.9 379.3 L1147.4 379.5 L1147.9 379.8 L1148.4 379.9 L1148.9 380.1 L1149.4 380.2 L1149.9 380.2 L1150.4 380.2 L1150.9 380.1 L1151.4 380.0 L1151.9 379.8 L1152.4 379.7 L1152.9 379.6 L1153.4 379.7 L1153.9 379.8 L1154.4 380.0 L1154.9 380.2 L1155.4 380.4 L1155.9 380.6 L1156.4 380.8 L1156.9 380.8 L1157.4 380.8 L1157.9 380.8 L1158.4 380.6 L1158.9 380.5 L1159.4 380.4 L1159.9 380.3 L1160.4 380.2 L1160.9 380.2 L1161.4 380.2 L1161.9 380.3 L1162.4 380.3 L1162.9 380.4 L1163.4 380.4 L1163.9 380.4 L1164.4 380.4 L1164.9 380.5 L1165.4 380.4 L1165.9 380.4 L1166.4 380.3 L1166.9 380.2 L1167.4 380.1 L1167.9 380.1 L1168.4 380.0 L1168.9 379.9 L1169.4 379.9 L1169.9 379.9 L1170.4 379.9 L1170.9 380.0 L1171.4 380.2 L1171.9 380.3 L1172.4 380.5 L1172.9 380.7 L1173.4 380.8 L1173.9 380.8 L1174.4 380.9 L1174.9 380.9 L1175.4 380.9 L1175.9 380.9 L1176.4 380.8 L1176.9 380.7 L1177.4 380.6 L1177.9 380.5 L1178.4 380.3 L1178.9 380.2 L1179.4 380.2 L1179.9 380.2 L1180.4 380.2 L1180.9 380.4 L1181.4 380.6 L1181.9 380.8 L1182.4 381.0 L1182.9 381.2 L1183.4 381.4 L1183.9 381.5 L1184.4 381.5 L1184.9 381.4 L1185.4 381.2 L1185.9 380.9 L1186.4 380.6 L1186.9 380.2 L1187.4 379.8 L1187.9 379.5 L1188.4 379.3 L1188.9 379.2 L1189.4 379.2 L1189.9 379.3 L1190.4 379.4 L1190.9 379.5 L1191.4 379.6 L1191.9 379.5 L1192.4 379.5 L1192.9 379.4 L1193.4 379.2 L1193.9 379.2 L1194.4 379.1 L1194.9 379.2 L1195.4 379.2 L1195.9 379.4 L1196.4 379.5 L1196.9 379.7 L1197.4 379.7 L1197.9 379.7 L1198.4 379.6 L1198.9 379.5 L1199.4 379.3 L1199.9 379.2 L1200.4 379.1 L1200.9 379.2 L1201.4 379.3 L1201.9 379.5 L1202.4 379.6 L1202.9 379.7 L1203.4 379.8 L1203.9 379.7 L1204.4 379.6 L1204.9 379.5 L1205.4 379.3 L1205.9 379.3 L1206.4 379.3 L1206.9 379.4 L1207.4 379.6 L1207.9 379.8 L1208.4 380.0 L1208.9 380.1 L1209.4 380.2 L1209.9 380.1 L1210.4 380.1 L1210.9 380.0 L1211.4 379.9 L1211.9 379.9 L1212.4 380.0 L1212.9 380.0 L1213.4 380.1 L1213.9 380.2 L1214.4 380.3 L1214.9 380.4 L1215.4 380.6 L1215.9 380.7 L1216.4 380.8 L1216.9 380.9 L1217.4 381.0 L1217.9 381.0 L1218.4 381.0 L1218.9 380.8 L1219.4 380.6 L1219.9 380.3 L1220.4 380.0 L1220.9 379.7 L1221.4 379.5 L1221.9 379.3 L1222.4 379.2 L1222.9 379.1 L1223.4 379.1 L1223.9 379.1 L1224.4 379.2 L1224.9 379.3 L1225.4 379.4 L1225.9 379.6 L1226.4 379.7 L1226.9 379.9 L1227.4 380.1 L1227.9 380.3 L1228.4 380.4 L1228.9 380.5 L1229.4 380.6 L1229.9 380.6 L1230.4 380.7 L1230.9 380.8 L1231.4 380.9 L1231.9 381.0 L1232.4 381.0 L1232.9 380.9 L1233.4 380.7 L1233.9 380.5 L1234.4 380.2 L1234.9 379.9 L1235.4 379.6 L1235.9 379.3 L1236.4 379.1 L1236.9 379.1 L1237.4 379.1 L1237.9 379.2 L1238.4 379.4 L1238.9 379.7 L1239.4 379.8 L1239.9 379.8 L1240.4 379.7 L1240.9 379.5 L1241.4 379.1 L1241.9 378.8 L1242.4 378.5 L1242.9 378.3 L1243.4 378.1 L1243.9 378.0 L1244.4 378.0 L1244.9 378.0 L1245.4 378.0 L1245.9 377.9 L1246.4 377.8 L1246.9 377.6 L1247.4 377.3 L1247.9 377.1 L1248.4 376.7 L1248.9 376.3 L1249.4 375.9 L1249.9 375.2 L1250.4 374.4 L1250.9 373.3 L1251.4 372.1 L1251.9 370.5 L1252.4 368.7 L1252.9 366.5 L1253.4 363.9 L1253.9 360.8 L1254.4 357.3 L1254.9 353.2 L1255.4 348.9 L1255.9 344.3 L1256.4 339.8 L1256.9 335.7 L1257.4 332.6 L1257.9 330.9 L1258.4 330.9 L1258.9 332.5 L1259.4 335.6 L1259.9 339.5 L1260.4 343.9 L1260.9 348.3 L1261.4 352.5 L1261.9 356.4 L1262.4 360.0 L1262.9 363.2 L1263.4 366.0 L1263.9 368.4 L1264.4 370.3 L1264.9 371.9 L1265.4 373.2 L1265.9 374.2 L1266.4 374.9 L1266.9 375.5 L1267.4 376.1 L1267.9 376.6 L1268.4 377.0 L1268.9 377.4 L1269.4 377.8 L1269.9 378.0 L1270.4 378.2 L1270.9 378.4 L1271.4 378.5 L1271.9 378.7 L1272.4 378.8 L1272.9 378.9 L1273.4 379.1 L1273.9 379.3 L1274.4 379.5 L1274.9 379.7 L1275.4 379.9 L1275.9 380.0 L1276.4 380.1 L1276.9 380.0 L1277.4 379.9 L1277.9 379.6 L1278.4 379.3 L1278.9 379.0 L1279.4 378.7 L1279.9 378.5 L1280.4 378.3 L1280.9 378.1 L1281.4 378.1 L1281.9 378.1 L1282.4 378.3 L1282.9 378.5 L1283.4 378.7 L1283.9 378.9 L1284.4 379.0 L1284.9 379.0 L1285.4 378.7 L1285.9 378.4 L1286.4 378.1 L1286.9 377.9 L1287.4 377.8 L1287.9 377.8 L1288.4 377.9 L1288.9 378.0 L1289.4 377.9 L1289.9 377.8 L1290.4 377.5 L1290.9 377.2 L1291.4 376.6 L1291.9 376.0 L1292.4 375.1 L1292.9 374.0 L1293.4 372.5 L1293.9 370.7 L1294.4 368.4 L1294.9 365.8 L1295.4 362.9 L1295.9 359.6 L1296.4 356.3 L1296.9 353.1 L1297.4 350.4 L1297.9 348.6 L1298.4 348.0 L1298.9 348.8 L1299.4 350.8 L1299.9 353.7 L1300.4 357.3 L1300.9 361.1 L1301.4 364.8 L1301.9 368.1 L1302.4 371.1 L1302.9 373.7 L1303.4 375.9 L1303.9 377.8 L1304.4 379.3 L1304.9 379.7 L1305.4 379.7 L1305.9 379.6 L1306.4 379.4 L1306.9 379.2 L1307.4 379.0 L1307.9 378.6 L1308.4 378.3 L1308.9 377.8 L1309.4 377.3 L1309.9 376.7 L1310.4 376.7 L1310.9 376.8 L1311.4 376.9 L1311.9 377.0 L1312.4 377.1 L1312.9 377.2 L1313.4 377.4 L1313.9 377.6"/>
<path stroke="#00ff00" d="M111.9 664.1 L112.4 664.6 L112.9 665.2 L113.4 665.7 L113.9 665.8 L114.4 665.8 L114.9 665.7 L115.4 665.6 L115.9 665.2 L116.4 664.6 L116.9 663.9 L117.4 663.2 L117.9 662.5 L118.4 661.8 L118.9 660.9 L119.4 660.0 L119.9 659.2 L120.4 658.8 L120.9 658.7 L121.4 659.0 L121.9 659.3 L122.4 659.8 L122.9 660.4 L123.4 660.9 L123.9 661.4 L124.4 661.6 L124.9 661.4 L125.4 661.1 L125.9 660.8 L126.4 660.5 L126.9 660.2 L127.4 659.6 L127.9 659.0 L128.4 658.4 L128.9 657.9 L129.4 657.7 L129.9 657.5 L130.4 657.6 L130.9 657.8 L131.4 658.0 L131.9 658.0 L132.4 657.7 L132.9 657.5 L133.4 657.4 L133.9 657.5 L134.4 657.9 L134.9 658.3 L135.4 658.6 L135.9 658.8 L136.4 659.0 L136.9 659.1 L137.4 659.3 L137.9 659.5 L138.4 659.7 L138.9 659.8 L139.4 659.9 L139.9 660.0 L140.4 660.3 L140.9 660.5 L141.4 660.7 L141.9 660.7 L142.4 660.6 L142.9 660.3 L143.4 659.9 L143.9 659.5 L144.4 659.2 L144.9 659.1 L145.4 659.1 L145.9 659.1 L146.4 659.3 L146.9 659.7 L147.4 660.0 L147.9 660.1 L148.4 660.0 L148.9 659.9 L149.4 659.8 L149.9 659.5 L150.4 659.0 L150.9 658.6 L151.4 658.3 L151.9 658.3 L152.4 658.4 L152.9 658.7 L153.4 659.0 L153.9 659.4 L154.4 659.8 L154.9 660.2 L155.4 660.5 L155.9 660.7 L156.4 660.8 L156.9 660.6 L157.4 660.2 L157.9 659.9 L158.4 659.4 L158.9 659.0 L159.4 658.8 L159.9 658.7 L160.4 658.7 L160.9 658.5 L161.4 658.1 L161.9 657.6 L162.4 657.2 L162.9 657.1 L163.4 657.3 L163.9 657.8 L164.4 658.4 L164.9 658.7 L165.4 658.9 L165.9 658.8 L166.4 658.7 L166.9 658.5 L167.4 658.6 L167.9 658.7 L168.4 658.8 L168.9 658.8 L169.4 658.6 L169.9 658.5 L170.4 658.4 L170.9 658.6 L171.4 658.9 L171.9 659.1 L172.4 659.4 L172.9 659.7 L173.4 659.8 L173.9 659.9 L174.4 659.8 L174.9 659.5 L175.4 659.3 L175.9 659.2 L176.4 659.3 L176.9 659.7 L177.4 660.4 L177.9 661.0 L178.4 661.4 L178.9 661.5 L179.4 661.5 L179.9 661.4 L180.4 661.4 L180.9 661.5 L181.4 661.6 L181.9 661.4 L182.4 660.9 L182.9 660.3 L183.4 659.7 L183.9 659.1 L184.4 658.8 L184.9 658.9 L185.4 659.5 L185.9 660.3 L186.4 661.0 L186.9 661.2 L187.4 661.1 L187.9 660.7 L188.4 660.2 L188.9 659.8 L189.4 659.5 L189.9 659.3 L190.4 659.1 L190.9 658.9 L191.4 658.6 L191.9 658.5 L192.4 658.3 L192.9 658.1 L193.4 657.9 L193.9 657.8 L194.4 658.0 L194.9 658.2 L195.4 658.5 L195.9 658.7 L196.4 658.7 L196.9 658.6 L197.4 658.4 L197.9 658.4 L198.4 658.3 L198.9 658.4 L199.4 658.5 L199.9 658.7 L200.4 659.0 L200.9 659.2 L201.4 659.2 L201.9 659.1 L202.4 659.0 L202.9 658.8 L203.4 658.6 L203.9 658.4 L204.4 658.2 L204.9 658.1 L205.4 658.2 L205.9 658.3 L206.4 658.4 L206.9 658.4 L207.4 658.5 L207.9 658.6 L208.4 658.8 L208.9 659.1 L209.4 659.2 L209.9 659.0 L210.4 658.9 L210.9 659.0 L211.4 659.5 L211.9 660.1 L212.4 660.4 L212.9 660.4 L213.4 660.0 L213.9 659.7 L214.4 659.7 L214.9 660.1 L215.4 660.6 L215.9 661.2 L216.4 661.5 L216.9 661.6 L217.4 661.5 L217.9 661.2 L218.4 660.7 L218.9 660.4 L219.4 660.4 L219.9 660.7 L220.4 661.0 L220.9 661.0 L221.4 660.9 L221.9 660.7 L222.4 660.7 L222.9 660.9 L223.4 661.0 L223.9 661.1 L224.4 661.1 L224.9 660.9 L225.4 660.7 L225.9 660.5 L226.4 660.4 L226.9 660.4 L227.4 660.4 L227.9 660.4 L228.4 660.3 L228.9 660.2 L229.4 659.9 L229.9 659.4 L230.4 658.8 L230.9 658.4 L231.4 658.3 L231.9 658.6 L232.4 659.2 L232.9 660.0 L233.4 660.7 L233.9 661.0 L234.4 660.6 L234.9 659.7 L235.4 658.7 L235.9 657.8 L236.4 657.2 L236.9 656.9 L237.4 656.8 L237.9 656.8 L238.4 656.7 L238.9 656.6 L239.4 656.8 L239.9 657.3 L240.4 658.0 L240.9 658.7 L241.4 659.2 L241.9 659.4 L242.4 659.4 L242.9 659.4 L243.4 659.5 L243.9 659.6 L244.4 659.4 L244.9 658.8 L245.4 658.2 L245.9 657.7 L246.4 657.6 L246.9 657.8 L247.4 658.2 L247.9 658.5 L248.4 658.7 L248.9 658.6 L249.4 658.5 L249.9 658.4 L250.4 658.3 L250.9 658.5 L251.4 658.8 L251.9 659.2 L252.4 659.6 L252.9 659.8 L253.4 659.6 L253.9 659.2 L254.4 658.6 L254.9 658.3 L255.4 658.2 L255.9 658.4 L256.4 658.7 L256.9 658.9 L257.4 659.1 L257.9 659.2 L258.4 659.3 L258.9 659.4 L259.4 659.5 L259.9 659.5 L260.4 659.4 L260.9 659.1 L261.4 658.5 L261.9 657.9 L262.4 657.6 L262.9 657.6 L263.4 657.8 L263.9 658.2 L264.4 658.5 L264.9 658.9 L265.4 659.2 L265.9 659.4 L266.4 659.5 L266.9 659.5 L267.4 659.1 L267.9 658.5 L268.4 657.8 L268.9 657.3 L269.4 657.3 L269.9 657.6 L270.4 658.1 L270.9 658.5 L271.4 658.6 L271.9 658.3 L272.4 657.7 L272.9 657.0 L273.4 656.4 L273.9 656.2 L274.4 656.3 L274.9 656.4 L275.4 656.4 L275.9 656.5 L276.4 656.7 L276.9 657.0 L277.4 657.3 L277.9 657.5 L278.4 657.6 L278.9 657.7 L279.4 657.9 L279.9 658.3 L280.4 658.8 L280.9 659.2 L281.4 659.5 L281.9 659.6 L282.4 659.5 L282.9 659.2 L283.4 658.9 L283.9 658.5 L284.4 658.2 L284.9 658.0 L285.4 658.1 L285.9 658.3 L286.4 658.4 L286.9 658.6 L287.4 658.7 L287.9 659.1 L288.4 659.5 L288.9 660.1 L289.4 660.5 L289.9 660.8 L290.4 661.1 L290.9 661.3 L291.4 661.2 L291.9 661.0 L292.4 660.6 L292.9 660.4 L293.4 660.5 L293.9 660.8 L294.4 661.3 L294.9 661.8 L295.4 662.4 L295.9 662.9 L296.4 663.2 L296.9 663.3 L297.4 663.2 L297.9 663.1 L298.4 663.1 L298.9 663.1 L299.4 663.2 L299.9 663.1 L300.4 662.6 L300.9 661.8 L301.4 661.2 L301.9 661.1 L302.4 661.4 L302.9 662.0 L303.4 662.5 L303.9 662.7 L304.4 662.7 L304.9 662.7 L305.4 662.9 L305.9 663.3 L306.4 663.8 L306.9 664.0 L307.4 663.6 L307.9 662.9 L308.4 662.2 L308.9 661.6 L309.4 661.4 L309.9 661.6 L310.4 661.9 L310.9 662.0 L311.4 661.9 L311.9 661.7 L312.4 661.6 L312.9 661.8 L313.4 662.2 L313.9 662.8 L314.4 663.2 L314.9 663.4 L315.4 663.3 L315.9 662.9 L316.4 662.4 L316.9 662.2 L317.4 662.4 L317.9 663.0 L318.4 663.5 L318.9 663.7 L319.4 663.5 L319.9 663.2 L320.4 663.0 L320.9 663.0 L321.4 663.1 L321.9 663.1 L322.4 663.1 L322.9 663.1 L323.4 663.2 L323.9 663.4 L324.4 663.6 L324.9 663.9 L325.4 664.1 L325.9 664.2 L326.4 664.2 L326.9 663.9 L327.4 663.3 L327.9 662.6 L328.4 661.8 L328.9 661.3 L329.4 661.1 L329.9 661.2 L330.4 661.4 L330.9 661.5 L331.4 661.7 L331.9 662.0 L332.4 662.5 L332.9 663.1 L333.4 663.7 L333.9 664.0 L334.4 664.0 L334.9 663.7 L335.4 663.3 L335.9 663.0 L336.4 662.7 L336.9 662.5 L337.4 662.4 L337.9 662.4 L338.4 662.4 L338.9 662.2 L339.4 662.0 L339.9 661.7 L340.4 661.5 L340.9 661.3 L341.4 661.1 L341.9 661.0 L342.4 660.9 L342.9 661.0 L343.4 661.2 L343.9 661.6 L344.4 661.9 L344.9 662.3 L345.4 662.6 L345.9 662.7 L346.4 662.4 L346.9 661.8 L347.4 661.1 L347.9 660.3 L348.4 659.6 L348.9 658.7 L349.4 657.6 L349.9 656.0 L350.4 653.9 L350.9 651.0 L351.4 647.5 L351.9 643.3 L352.4 638.5 L352.9 633.5 L353.4 628.7 L353.9 625.3 L354.4 624.1 L354.9 625.4 L355.4 628.8 L355.9 633.6 L356.4 638.8 L356.9 643.8 L357.4 648.1 L357.9 651.6 L358.4 654.1 L358.9 655.9 L359.4 657.3 L359.9 658.6 L360.4 660.0 L360.9 661.2 L361.4 661.9 L361.9 662.1 L362.4 661.9 L362.9 661.7 L363.4 661.7 L363.9 661.8 L364.4 661.9 L364.9 661.8 L365.4 661.7 L365.9 661.7 L366.4 661.8 L366.9 661.9 L367.4 661.9 L367.9 661.7 L368.4 661.3 L368.9 660.8 L369.4 660.4 L369.9 660.2 L370.4 660.3 L370.9 660.4 L371.4 660.6 L371.9 660.9 L372.4 661.1 L372.9 661.1 L373.4 660.9 L373.9 660.7 L374.4 660.7 L374.9 661.0 L375.4 661.6 L375.9 662.4 L376.4 663.0 L376.9 663.4 L377.4 663.5 L377.9 663.3 L378.4 663.1 L378.9 663.0 L379.4 663.0 L379.9 662.9 L380.4 662.9 L380.9 663.0 L381.4 663.0 L381.9 662.8 L382.4 662.4 L382.9 662.2 L383.4 662.0 L383.9 662.0 L384.4 661.9 L384.9 661.5 L385.4 660.9 L385.9 660.2 L386.4 659.7 L386.9 659.6 L387.4 660.0 L387.9 660.6 L388.4 661.3 L388.9 661.6 L389.4 661.6 L389.9 661.3 L390.4 660.9 L390.9 660.5 L391.4 660.4 L391.9 660.5 L392.4 660.6 L392.9 660.8 L393.4 661.0 L393.9 661.2 L394.4 661.4 L394.9 661.5 L395.4 661.5 L395.9 661.5 L396.4 661.7 L396.9 661.9 L397.4 661.9 L397.9 661.7 L398.4 661.4 L398.9 661.2 L399.4 661.1 L399.9 661.3 L400.4 661.7 L400.9 662.2 L401.4 662.5 L401.9 662.6 L402.4 662.4 L402.9 662.0 L403.4 661.4 L403.9 660.7 L404.4 660.3 L404.9 660.0 L405.4 659.9 L405.9 659.8 L406.4 659.7 L406.9 659.5 L407.4 659.4 L407.9 659.3 L408.4 659.3 L408.9 659.5 L409.4 659.5 L409.9 659.3 L410.4 658.9 L410.9 658.4 L411.4 657.7 L411.9 657.0 L412.4 656.4 L412.9 655.9 L413.4 655.6 L413.9 655.1 L414.4 654.6 L414.9 653.8 L415.4 653.0 L415.9 652.2 L416.4 651.5 L416.9 651.0 L417.4 650.6 L417.9 650.2 L418.4 649.7 L418.9 649.0 L419.4 648.3 L419.9 647.4 L420.4 646.4 L420.9 645.2 L421.4 643.6 L421.9 641.4 L422.4 638.7 L422.9 635.1 L423.4 630.4 L423.9 624.4 L424.4 616.9 L424.9 607.6 L425.4 596.5 L425.9 583.8 L426.4 569.3 L426.9 553.2 L427.4 535.7 L427.9 517.3 L428.4 499.1 L428.9 482.8 L429.4 470.1 L429.9 462.9 L430.4 462.2 L430.9 468.2 L431.4 479.9 L431.9 495.6 L432.4 513.4 L432.9 531.8 L433.4 549.7 L433.9 566.4 L434.4 581.5 L434.9 594.9 L435.4 606.4 L435.9 616.1 L436.4 624.3 L436.9 631.1 L437.4 636.6 L437.9 640.8 L438.4 644.0 L438.9 646.2 L439.4 647.4 L439.9 647.5 L440.4 646.8 L440.9 646.0 L441.4 645.7 L441.9 646.1 L442.4 647.1 L442.9 648.3 L443.4 649.6 L443.9 650.6 L444.4 651.5 L444.9 652.2 L445.4 653.0 L445.9 654.0 L446.4 655.0 L446.9 656.0 L447.4 656.9 L447.9 657.6 L448.4 658.4 L448.9 659.1 L449.4 659.5 L449.9 659.6 L450.4 659.3 L450.9 658.9 L451.4 658.6 L451.9 658.7 L452.4 659.1 L452.9 659.4 L453.4 659.5 L453.9 659.4 L454.4 659.3 L454.9 659.4 L455.4 659.6 L455.9 659.9 L456.4 659.9 L456.9 659.7 L457.4 659.4 L457.9 659.2 L458.4 659.3 L458.9 659.7 L459.4 659.9 L459.9 659.9 L460.4 659.9 L460.9 660.0 L461.4 660.3 L461.9 660.8 L462.4 661.2 L462.9 661.2 L463.4 660.9 L463.9 660.5 L464.4 659.9 L464.9 659.4 L465.4 659.2 L465.9 659.2 L466.4 659.6 L466.9 660.1 L467.4 660.6 L467.9 661.0 L468.4 661.0 L468.9 660.9 L469.4 660.7 L469.9 660.6 L470.4 660.5 L470.9 660.3 L471.4 659.9 L471.9 659.3 L472.4 658.7 L472.9 658.4 L473.4 658.6 L473.9 659.0 L474.4 659.5 L474.9 659.9 L475.4 660.0 L475.9 659.8 L476.4 659.4 L476.9 658.8 L477.4 658.1 L477.9 657.6 L478.4 657.2 L478.9 657.2 L479.4 657.3 L479.9 657.4 L480.4 657.5 L480.9 657.3 L481.4 656.9 L481.9 656.6 L482.4 656.6 L482.9 656.9 L483.4 657.5 L483.9 658.2 L484.4 658.8 L484.9 658.9 L485.4 658.8 L485.9 658.5 L486.4 658.4 L486.9 658.6 L487.4 659.2 L487.9 659.9 L488.4 660.6 L488.9 661.0 L489.4 661.0 L489.9 660.8 L490.4 660.4 L490.9 660.1 L491.4 659.8 L491.9 659.6 L492.4 659.4 L492.9 659.2 L493.4 658.7 L493.9 657.8 L494.4 656.7 L494.9 655.9 L495.4 655.4 L495.9 655.2 L496.4 655.3 L496.9 655.3 L497.4 654.9 L497.9 654.1 L498.4 652.9 L498.9 651.6 L499.4 650.1 L499.9 648.6 L500.4 647.0 L500.9 645.2 L501.4 642.9 L501.9 639.9 L502.4 635.9 L502.9 630.6 L503.4 623.7 L503.9 614.8 L504.4 603.6 L504.9 589.7 L505.4 572.9 L505.9 553.6 L506.4 532.4 L506.9 510.7 L507.4 490.2 L507.9 473.5 L508.4 463.7 L508.9 462.8 L509.4 471.2 L509.9 487.0 L510.4 506.8 L510.9 528.0 L511.4 548.6 L511.9 567.3 L512.4 583.8 L512.9 598.1 L513.4 610.0 L513.9 619.6 L514.4 626.8 L514.9 632.0 L515.4 635.6 L515.9 638.3 L516.4 640.5 L516.9 642.5 L517.4 644.3 L517.9 646.0 L518.4 647.4 L518.9 648.3 L519.4 648.9 L519.9 649.3 L520.4 650.0 L520.9 650.9 L521.4 651.9 L521.9 652.8 L522.4 653.5 L522.9 654.0 L523.4 654.3 L523.9 654.5 L524.4 654.4 L524.9 654.2 L525.4 653.8 L525.9 653.5 L526.4 653.3 L526.9 653.5 L527.4 653.9 L527.9 654.4 L528.4 654.9 L528.9 655.2 L529.4 655.5 L529.9 655.8 L530.4 656.0 L530.9 656.2 L531.4 656.1 L531.9 655.7 L532.4 655.4 L532.9 655.3 L533.4 655.6 L533.9 655.8 L534.4 655.9 L534.9 655.9 L535.4 655.9 L535.9 656.0 L536.4 656.0 L536.9 655.8 L537.4 655.3 L537.9 654.6 L538.4 654.0 L538.9 653.7 L539.4 653.9 L539.9 654.4 L540.4 654.8 L540.9 654.9 L541.4 654.6 L541.9 654.1 L542.4 653.6 L542.9 653.3 L543.4 653.0 L543.9 652.2 L544.4 650.9 L544.9 649.2 L545.4 647.1 L545.9 644.8 L546.4 642.0 L546.9 638.1 L547.4 632.6 L547.9 625.2 L548.4 615.6 L548.9 604.0 L549.4 590.9 L549.9 577.5 L550.4 565.6 L550.9 557.8 L551.4 556.2 L551.9 561.0 L552.4 570.9 L552.9 583.4 L553.4 596.5 L553.9 608.9 L554.4 619.8 L554.9 628.7 L555.4 635.8 L555.9 641.0 L556.4 644.7 L556.9 647.4 L557.4 649.3 L557.9 650.7 L558.4 651.8 L558.9 652.6 L559.4 653.0 L559.9 653.1 L560.4 653.0 L560.9 652.9 L561.4 653.0 L561.9 653.2 L562.4 653.5 L562.9 653.9 L563.4 654.3 L563.9 654.8 L564.4 655.2 L564.9 655.7 L565.4 656.1 L565.9 656.5 L566.4 656.7 L566.9 656.9 L567.4 657.0 L567.9 657.0 L568.4 656.9 L568.9 656.8 L569.4 656.7 L569.9 656.7 L570.4 656.8 L570.9 657.1 L571.4 657.5 L571.9 657.7 L572.4 657.6 L572.9 657.4 L573.4 657.1 L573.9 657.0 L574.4 657.0 L574.9 657.4 L575.4 657.9 L575.9 658.4 L576.4 658.9 L576.9 659.1 L577.4 659.1 L577.9 658.9 L578.4 658.9 L578.9 659.0 L579.4 659.4 L579.9 660.0 L580.4 660.7 L580.9 661.6 L581.4 662.4 L581.9 663.0 L582.4 663.2 L582.9 663.2 L583.4 663.2 L583.9 663.1 L584.4 662.7 L584.9 662.2 L585.4 661.5 L585.9 660.9 L586.4 660.4 L586.9 660.1 L587.4 659.9 L587.9 659.8 L588.4 659.7 L588.9 659.4 L589.4 658.9 L589.9 658.3 L590.4 657.7 L590.9 657.2 L591.4 656.8 L591.9 656.5 L592.4 656.2 L592.9 656.0 L593.4 655.9 L593.9 656.0 L594.4 656.3 L594.9 656.6 L595.4 657.0 L595.9 657.5 L596.4 658.3 L596.9 659.0 L597.4 659.6 L597.9 660.0 L598.4 660.2 L598.9 660.4 L599.4 660.7 L599.9 661.0 L600.4 661.2 L600.9 661.0 L601.4 660.7 L601.9 660.5 L602.4 660.4 L602.9 660.4 L603.4 660.2 L603.9 659.8 L604.4 659.3 L604.9 658.8 L605.4 658.5 L605.9 658.2 L606.4 658.1 L606.9 658.1 L607.4 658.2 L607.9 658.3 L608.4 658.4 L608.9 658.4 L609.4 658.4 L609.9 658.4 L610.4 658.5 L610.9 658.6 L611.4 658.8 L611.9 658.9 L612.4 658.9 L612.9 658.9 L613.4 659.0 L613.9 659.0 L614.4 659.0 L614.9 658.9 L615.4 659.1 L615.9 659.3 L616.4 659.5 L616.9 659.5 L617.4 659.5 L617.9 659.5 L618.4 659.4 L618.9 659.2 L619.4 658.9 L619.9 658.7 L620.4 658.6 L620.9 658.5 L621.4 658.4 L621.9 658.3 L622.4 658.3 L622.9 658.2 L623.4 658.2 L623.9 658.2 L624.4 658.2 L624.9 658.2 L625.4 658.3 L625.9 658.6 L626.4 658.9 L626.9 659.2 L627.4 659.4 L627.9 659.5 L628.4 659.7 L628.9 659.9 L629.4 660.2 L629.9 660.3 L630.4 660.3 L630.9 659.9 L631.4 659.4 L631.9 658.8 L632.4 658.3 L632.9 657.6 L633.4 656.9 L633.9 656.4 L634.4 656.2 L634.9 656.3 L635.4 656.4 L635.9 656.0 L636.4 655.2 L636.9 653.9 L637.4 652.2 L637.9 649.8 L638.4 646.7 L638.9 642.9 L639.4 638.8 L639.9 634.9 L640.4 631.7 L640.9 629.7 L641.4 629.1 L641.9 630.0 L642.4 632.2 L642.9 635.1 L643.4 638.6 L643.9 642.2 L644.4 645.7 L644.9 648.8 L645.4 651.4 L645.9 653.5 L646.4 655.3 L646.9 656.9 L647.4 658.2 L647.9 659.0 L648.4 659.3 L648.9 659.0 L649.4 658.5 L649.9 658.1 L650.4 657.9 L650.9 658.1 L651.4 658.4 L651.9 658.8 L652.4 659.2 L652.9 659.3 L653.4 659.4 L653.9 659.6 L654.4 659.9 L654.9 660.5 L655.4 661.1 L655.9 661.7 L656.4 662.0 L656.9 662.0 L657.4 661.9 L657.9 661.9 L658.4 662.1 L658.9 662.5 L659.4 663.0 L659.9 663.4 L660.4 663.6 L660.9 663.3 L661.4 662.8 L661.9 662.4 L662.4 662.2 L662.9 662.2 L663.4 661.9 L663.9 661.3 L664.4 660.5 L664.9 659.7 L665.4 659.0 L665.9 658.6 L666.4 658.2 L666.9 657.8 L667.4 657.3 L667.9 656.8 L668.4 656.3 L668.9 656.3 L669.4 656.7 L669.9 657.3 L670.4 658.0 L670.9 658.7 L671.4 659.3 L671.9 659.8 L672.4 660.0 L672.9 660.0 L673.4 659.7 L673.9 659.4 L674.4 659.1 L674.9 658.9 L675.4 658.9 L675.9 659.2 L676.4 659.5 L676.9 659.5 L677.4 659.1 L677.9 658.4 L678.4 657.7 L678.9 657.3 L679.4 657.3 L679.9 657.5 L680.4 657.6 L680.9 657.4 L681.4 657.1 L681.9 656.7 L682.4 656.4 L682.9 656.3 L683.4 656.3 L683.9 656.2 L684.4 655.9 L684.9 655.5 L685.4 655.1 L685.9 654.7 L686.4 654.6 L686.9 654.6 L687.4 654.9 L687.9 655.2 L688.4 655.4 L688.9 655.4 L689.4 655.4 L689.9 655.5 L690.4 655.6 L690.9 655.8 L691.4 656.0 L691.9 656.2 L692.4 656.3 L692.9 656.3 L693.4 656.0 L693.9 655.5 L694.4 655.2 L694.9 655.2 L695.4 655.1 L695.9 655.0 L696.4 654.7 L696.9 654.3 L697.4 654.0 L697.9 653.7 L698.4 653.4 L698.9 653.2 L699.4 653.1 L699.9 653.2 L700.4 653.3 L700.9 653.5 L701.4 653.5 L701.9 653.6 L702.4 653.5 L702.9 653.4 L703.4 653.3 L703.9 653.1 L704.4 652.9 L704.9 652.9 L705.4 653.2 L705.9 653.7 L706.4 654.2 L706.9 654.7 L707.4 655.1 L707.9 655.6 L708.4 655.9 L708.9 655.9 L709.4 655.6 L709.9 655.1 L710.4 654.8 L710.9 654.8 L711.4 654.9 L711.9 655.0 L712.4 655.2 L712.9 655.5 L713.4 656.0 L713.9 656.4 L714.4 656.8 L714.9 657.2 L715.4 657.7 L715.9 658.4 L716.4 659.1 L716.9 659.7 L717.4 659.9 L717.9 659.8 L718.4 659.5 L718.9 659.3 L719.4 659.3 L719.9 659.4 L720.4 659.5 L720.9 659.5 L721.4 659.6 L721.9 659.9 L722.4 660.3 L722.9 660.6 L723.4 660.7 L723.9 660.7 L724.4 660.9 L724.9 661.1 L725.4 661.2 L725.9 661.2 L726.4 661.2 L726.9 661.3 L727.4 661.3 L727.9 661.3 L728.4 661.2 L728.9 661.0 L729.4 660.8 L729.9 660.6 L730.4 660.7 L730.9 661.1 L731.4 661.8 L731.9 662.2 L732.4 662.0 L732.9 661.4 L733.4 660.4 L733.9 659.5 L734.4 658.7 L734.9 658.2 L735.4 658.1 L735.9 658.3 L736.4 659.0 L736.9 659.7 L737.4 660.2 L737.9 660.0 L738.4 659.4 L738.9 658.5 L739.4 657.8 L739.9 657.5 L740.4 657.4 L740.9 657.6 L741.4 657.6 L741.9 657.6 L742.4 657.5 L742.9 657.3 L743.4 656.9 L743.9 656.3 L744.4 655.6 L744.9 655.0 L745.4 654.4 L745.9 653.7 L746.4 653.0 L746.9 652.2 L747.4 651.4 L747.9 650.6 L748.4 649.5 L748.9 648.1 L749.4 646.0 L749.9 643.1 L750.4 639.1 L750.9 634.2 L751.4 628.6 L751.9 622.5 L752.4 615.8 L752.9 608.3 L753.4 599.9 L753.9 590.7 L754.4 581.5 L754.9 573.4 L755.4 567.6 L755.9 565.2 L756.4 566.6 L756.9 571.5 L757.4 578.8 L757.9 587.6 L758.4 596.7 L758.9 605.5 L759.4 613.6 L759.9 620.8 L760.4 626.9 L760.9 632.2 L761.4 636.6 L761.9 640.2 L762.4 643.0 L762.9 645.1 L763.4 646.7 L763.9 648.1 L764.4 649.5 L764.9 650.7 L765.4 651.7 L765.9 652.4 L766.4 652.9 L766.9 653.6 L767.4 654.4 L767.9 655.2 L768.4 655.9 L768.9 656.4 L769.4 656.5 L769.9 656.5 L770.4 656.6 L770.9 656.9 L771.4 657.6 L771.9 658.4 L772.4 659.0 L772.9 659.1 L773.4 658.9 L773.9 658.6 L774.4 658.6 L774.9 659.0 L775.4 659.6 L775.9 660.2 L776.4 660.7 L776.9 661.1 L777.4 661.3 L777.9 661.1 L778.4 660.5 L778.9 659.7 L779.4 658.9 L779.9 658.4 L780.4 658.1 L780.9 658.1 L781.4 658.2 L781.9 658.2 L782.4 657.9 L782.9 657.2 L783.4 656.0 L783.9 654.4 L784.4 652.4 L784.9 650.2 L785.4 647.6 L785.9 644.2 L786.4 639.8 L786.9 634.6 L787.4 629.0 L787.9 623.5 L788.4 619.1 L788.9 616.6 L789.4 616.8 L789.9 619.6 L790.4 624.2 L790.9 629.7 L791.4 635.5 L791.9 641.1 L792.4 646.0 L792.9 650.1 L793.4 653.1 L793.9 655.0 L794.4 656.3 L794.9 657.3 L795.4 658.3 L795.9 659.3 L796.4 660.1 L796.9 660.5 L797.4 660.7 L797.9 661.1 L798.4 661.6 L798.9 662.3 L799.4 662.8 L799.9 663.1 L800.4 663.2 L800.9 663.1 L801.4 662.9 L801.9 662.7 L802.4 662.5 L802.9 662.4 L803.4 662.1 L803.9 661.5 L804.4 660.7 L804.9 659.9 L805.4 659.4 L805.9 658.9 L806.4 658.6 L806.9 658.4 L807.4 658.6 L807.9 659.4 L808.4 660.5 L808.9 661.7 L809.4 662.6 L809.9 663.2 L810.4 663.5 L810.9 663.8 L811.4 664.1 L811.9 664.2 L812.4 664.2 L812.9 663.8 L813.4 663.1 L813.9 662.3 L814.4 661.7 L814.9 661.6 L815.4 661.9 L815.9 662.5 L816.4 662.9 L816.9 662.8 L817.4 662.3 L817.9 661.7 L818.4 661.2 L818.9 660.9 L819.4 660.7 L819.9 660.4 L820.4 659.9 L820.9 659.3 L821.4 658.8 L821.9 658.6 L822.4 658.8 L822.9 659.5 L823.4 660.3 L823.9 661.2 L824.4 661.8 L824.9 662.2 L825.4 662.3 L825.9 662.3 L826.4 662.0 L826.9 661.6 L827.4 661.0 L827.9 660.3 L828.4 659.7 L828.9 659.4 L829.4 659.2 L829.9 659.2 L830.4 659.3 L830.9 659.4 L831.4 659.4 L831.9 659.3 L832.4 658.9 L832.9 658.2 L833.4 657.5 L833.9 656.9 L834.4 656.6 L834.9 656.5 L835.4 656.6 L835.9 656.7 L836.4 656.8 L836.9 657.0 L837.4 657.3 L837.9 657.5 L838.4 657.4 L838.9 657.0 L839.4 656.6 L839.9 656.2 L840.4 656.2 L840.9 656.4 L841.4 656.6 L841.9 656.7 L842.4 656.7 L842.9 656.7 L843.4 656.8 L843.9 656.9 L844.4 657.1 L844.9 657.1 L845.4 657.3 L845.9 657.8 L846.4 658.4 L846.9 658.9 L847.4 659.1 L847.9 659.0 L848.4 658.9 L848.9 659.0 L849.4 659.4 L849.9 659.9 L850.4 660.3 L850.9 660.4 L851.4 660.2 L851.9 659.7 L852.4 659.0 L852.9 658.2 L853.4 657.5 L853.9 656.9 L854.4 656.6 L854.9 656.4 L855.4 656.2 L855.9 655.9 L856.4 655.6 L856.9 655.3 L857.4 654.8 L857.9 654.1 L858.4 653.2 L858.9 652.3 L859.4 651.6 L859.9 651.0 L860.4 650.3 L860.9 649.3 L861.4 647.9 L861.9 646.3 L862.4 644.5 L862.9 642.5 L863.4 639.9 L863.9 636.5 L864.4 632.0 L864.9 626.7 L865.4 620.8 L865.9 614.8 L866.4 609.2 L866.9 604.3 L867.4 600.9 L867.9 599.6 L868.4 600.9 L868.9 604.6 L869.4 610.1 L869.9 616.4 L870.4 622.8 L870.9 628.8 L871.4 634.3 L871.9 639.1 L872.4 643.2 L872.9 646.4 L873.4 648.6 L873.9 650.2 L874.4 651.5 L874.9 652.5 L875.4 653.3 L875.9 653.8 L876.4 654.4 L876.9 655.0 L877.4 655.8 L877.9 656.7 L878.4 657.5 L878.9 658.3 L879.4 658.8 L879.9 659.2 L880.4 659.6 L880.9 659.9 L881.4 660.0 L881.9 660.0 L882.4 659.6 L882.9 659.4 L883.4 659.3 L883.9 659.7 L884.4 660.2 L884.9 660.6 L885.4 660.9 L885.9 660.9 L886.4 660.7 L886.9 660.3 L887.4 659.9 L887.9 659.5 L888.4 659.1 L888.9 658.6 L889.4 658.0 L889.9 657.4 L890.4 656.9 L890.9 656.5 L891.4 656.4 L891.9 656.7 L892.4 657.1 L892.9 657.2 L893.4 656.8 L893.9 656.3 L894.4 655.7 L894.9 655.3 L895.4 655.1 L895.9 655.1 L896.4 655.0 L896.9 654.7 L897.4 654.2 L897.9 653.4 L898.4 652.5 L898.9 651.5 L899.4 650.5 L899.9 649.7 L900.4 648.8 L900.9 647.6 L901.4 645.8 L901.9 643.4 L902.4 640.1 L902.9 636.1 L903.4 631.3 L903.9 625.9 L904.4 619.8 L904.9 613.1 L905.4 606.0 L905.9 598.9 L906.4 592.8 L906.9 588.9 L907.4 588.1 L907.9 590.5 L908.4 595.5 L908.9 602.1 L909.4 609.2 L909.9 616.0 L910.4 622.3 L910.9 628.0 L911.4 633.3 L911.9 638.1 L912.4 642.4 L912.9 645.9 L913.4 648.8 L913.9 651.1 L914.4 653.0 L914.9 654.3 L915.4 655.3 L915.9 656.0 L916.4 656.6 L916.9 657.2 L917.4 658.0 L917.9 658.7 L918.4 659.3 L918.9 659.7 L919.4 659.9 L919.9 659.8 L920.4 659.5 L920.9 659.4 L921.4 659.5 L921.9 659.8 L922.4 660.1 L922.9 660.2 L923.4 659.9 L923.9 659.3 L924.4 658.6 L924.9 657.9 L925.4 657.3 L925.9 656.8 L926.4 656.5 L926.9 656.3 L927.4 656.2 L927.9 656.3 L928.4 656.9 L928.9 657.8 L929.4 658.6 L929.9 659.1 L930.4 659.3 L930.9 659.5 L931.4 659.9 L931.9 660.6 L932.4 661.5 L932.9 662.4 L933.4 662.9 L933.9 663.1 L934.4 662.9 L934.9 662.7 L935.4 662.5 L935.9 662.5 L936.4 662.8 L936.9 663.3 L937.4 663.9 L937.9 664.6 L938.4 665.1 L938.9 665.5 L939.4 665.4 L939.9 665.0 L940.4 664.6 L940.9 664.4 L941.4 664.5 L941.9 664.8 L942.4 665.0 L942.9 664.9 L943.4 664.3 L943.9 663.2 L944.4 661.8 L944.9 660.5 L945.4 659.5 L945.9 658.9 L946.4 658.8 L946.9 658.9 L947.4 659.1 L947.9 659.0 L948.4 658.5 L948.9 657.8 L949.4 656.8 L949.9 655.8 L950.4 655.1 L950.9 654.5 L951.4 654.3 L951.9 654.2 L952.4 654.2 L952.9 654.0 L953.4 653.4 L953.9 652.8 L954.4 652.2 L954.9 651.9 L955.4 652.0 L955.9 652.4 L956.4 652.9 L956.9 653.2 L957.4 653.5 L957.9 653.7 L958.4 654.1 L958.9 654.7 L959.4 655.6 L959.9 656.5 L960.4 657.3 L960.9 658.0 L961.4 658.5 L961.9 658.8 L962.4 658.9 L962.9 658.9 L963.4 659.1 L963.9 659.4 L964.4 659.8 L964.9 660.2 L965.4 660.5 L965.9 660.7 L966.4 660.7 L966.9 660.9 L967.4 661.3 L967.9 661.8 L968.4 662.2 L968.9 662.6 L969.4 663.0 L969.9 663.2 L970.4 663.3 L970.9 663.3 L971.4 663.2 L971.9 663.2 L972.4 663.3 L972.9 663.4 L973.4 663.1 L973.9 662.5 L974.4 661.8 L974.9 661.5 L975.4 661.6 L975.9 662.0 L976.4 662.7 L976.9 663.1 L977.4 663.3 L977.9 663.2 L978.4 663.0 L978.9 662.8 L979.4 662.8 L979.9 662.9 L980.4 663.2 L980.9 663.5 L981.4 663.8 L981.9 664.0 L982.4 664.1 L982.9 664.2 L983.4 664.3 L983.9 664.5 L984.4 664.5 L984.9 664.6 L985.4 664.7 L985.9 664.7 L986.4 664.5 L986.9 664.2 L987.4 664.1 L987.9 664.4 L988.4 664.8 L988.9 665.0 L989.4 664.8 L989.9 664.3 L990.4 663.5 L990.9 662.7 L991.4 662.1 L991.9 661.7 L992.4 661.4 L992.9 660.9 L993.4 660.4 L993.9 660.0 L994.4 659.8 L994.9 659.9 L995.4 660.0 L995.9 660.1 L996.4 660.3 L996.9 660.5 L997.4 660.7 L997.9 660.9 L998.4 660.8 L998.9 660.5 L999.4 660.2 L999.9 660.0 L1000.4 659.8 L1000.9 659.4 L1001.4 658.7 L1001.9 657.9 L1002.4 657.3 L1002.9 657.3 L1003.4 657.7 L1003.9 658.3 L1004.4 658.5 L1004.9 658.3 L1005.4 657.6 L1005.9 656.3 L1006.4 654.6 L1006.9 652.4 L1007.4 649.8 L1007.9 646.8 L1008.4 643.7 L1008.9 640.4 L1009.4 636.8 L1009.9 633.3 L1010.4 630.3 L1010.9 628.3 L1011.4 627.6 L1011.9 628.1 L1012.4 629.7 L1012.9 632.4 L1013.4 636.0 L1013.9 640.1 L1014.4 644.3 L1014.9 648.1 L1015.4 651.4 L1015.9 654.0 L1016.4 656.0 L1016.9 657.3 L1017.4 658.1 L1017.9 658.4 L1018.4 658.5 L1018.9 658.6 L1019.4 658.9 L1019.9 659.4 L1020.4 659.8 L1020.9 660.2 L1021.4 660.6 L1021.9 661.1 L1022.4 661.8 L1022.9 662.4 L1023.4 662.7 L1023.9 663.0 L1024.4 663.2 L1024.9 663.6 L1025.4 664.3 L1025.9 665.0 L1026.4 665.7 L1026.9 666.2 L1027.4 666.2 L1027.9 665.8 L1028.4 665.1 L1028.9 664.3 L1029.4 663.6 L1029.9 663.1 L1030.4 662.8 L1030.9 662.7 L1031.4 662.4 L1031.9 662.0 L1032.4 661.2 L1032.9 660.0 L1033.4 658.4 L1033.9 656.6 L1034.4 654.5 L1034.9 651.9 L1035.4 648.6 L1035.9 644.9 L1036.4 641.1 L1036.9 637.5 L1037.4 634.5 L1037.9 632.4 L1038.4 631.4 L1038.9 631.8 L1039.4 633.5 L1039.9 636.4 L1040.4 639.9 L1040.9 643.7 L1041.4 647.2 L1041.9 650.2 L1042.4 652.6 L1042.9 654.6 L1043.4 656.3 L1043.9 657.9 L1044.4 659.4 L1044.9 660.7 L1045.4 661.8 L1045.9 662.5 L1046.4 663.1 L1046.9 663.4 L1047.4 663.6 L1047.9 663.6 L1048.4 663.5 L1048.9 663.3 L1049.4 663.3 L1049.9 663.4 L1050.4 663.5 L1050.9 663.3 L1051.4 662.9 L1051.9 662.4 L1052.4 661.9 L1052.9 661.8 L1053.4 661.8 L1053.9 661.8 L1054.4 661.8 L1054.9 661.8 L1055.4 661.9 L1055.9 662.2 L1056.4 662.7 L1056.9 663.1 L1057.4 663.3 L1057.9 663.1 L1058.4 662.7 L1058.9 662.4 L1059.4 662.2 L1059.9 662.2 L1060.4 662.2 L1060.9 662.3 L1061.4 662.4 L1061.9 662.6 L1062.4 662.7 L1062.9 662.4 L1063.4 661.8 L1063.9 661.0 L1064.4 660.5 L1064.9 660.4 L1065.4 660.6 L1065.9 661.0 L1066.4 661.2 L1066.9 661.0 L1067.4 660.6 L1067.9 660.1 L1068.4 659.8 L1068.9 659.8 L1069.4 660.3 L1069.9 660.9 L1070.4 661.5 L1070.9 662.0 L1071.4 662.1 L1071.9 662.0 L1072.4 661.9 L1072.9 661.9 L1073.4 662.1 L1073.9 662.5 L1074.4 663.0 L1074.9 663.4 L1075.4 663.5 L1075.9 663.4 L1076.4 663.1 L1076.9 662.8 L1077.4 662.5 L1077.9 662.4 L1078.4 662.4 L1078.9 662.5 L1079.4 662.5 L1079.9 662.3 L1080.4 661.8 L1080.9 661.1 L1081.4 660.5 L1081.9 659.9 L1082.4 659.7 L1082.9 659.8 L1083.4 660.3 L1083.9 661.1 L1084.4 661.9 L1084.9 662.5 L1085.4 662.8 L1085.9 662.8 L1086.4 662.6 L1086.9 662.2 L1087.4 662.0 L1087.9 662.0 L1088.4 662.2 L1088.9 662.5 L1089.4 662.7 L1089.9 662.6 L1090.4 662.3 L1090.9 661.7 L1091.4 661.0 L1091.9 660.5 L1092.4 660.3 L1092.9 660.4 L1093.4 660.6 L1093.9 660.6 L1094.4 660.3 L1094.9 659.9 L1095.4 659.4 L1095.9 659.1 L1096.4 658.8 L1096.9 658.5 L1097.4 658.2 L1097.9 657.9 L1098.4 657.8 L1098.9 657.8 L1099.4 657.8 L1099.9 657.5 L1100.4 657.1 L1100.9 656.7 L1101.4 656.5 L1101.9 656.3 L1102.4 656.2 L1102.9 656.0 L1103.4 655.7 L1103.9 655.4 L1104.4 655.4 L1104.9 655.6 L1105.4 655.9 L1105.9 656.4 L1106.4 657.0 L1106.9 657.9 L1107.4 659.0 L1107.9 659.9 L1108.4 660.4 L1108.9 660.6 L1109.4 660.6 L1109.9 660.8 L1110.4 661.2 L1110.9 661.7 L1111.4 662.1 L1111.9 662.3 L1112.4 662.4 L1112.9 662.1 L1113.4 661.8 L1113.9 661.4 L1114.4 661.3 L1114.9 661.2 L1115.4 661.0 L1115.9 660.6 L1116.4 660.1 L1116.9 659.6 L1117.4 659.5 L1117.9 659.5 L1118.4 659.7 L1118.9 659.7 L1119.4 659.5 L1119.9 659.1 L1120.4 658.7 L1120.9 658.3 L1121.4 657.9 L1121.9 657.5 L1122.4 656.8 L1122.9 656.0 L1123.4 655.2 L1123.9 654.6 L1124.4 654.2 L1124.9 653.9 L1125.4 653.5 L1125.9 653.0 L1126.4 652.5 L1126.9 652.1 L1127.4 651.9 L1127.9 651.7 L1128.4 651.1 L1128.9 649.9 L1129.4 648.1 L1129.9 646.2 L1130.4 644.5 L1130.9 643.3 L1131.4 642.5 L1131.9 642.2 L1132.4 642.2 L1132.9 642.6 L1133.4 643.3 L1133.9 644.3 L1134.4 645.5 L1134.9 647.0 L1135.4 648.5 L1135.9 650.2 L1136.4 652.0 L1136.9 653.6 L1137.4 654.9 L1137.9 655.8 L1138.4 656.3 L1138.9 656.5 L1139.4 656.5 L1139.9 656.3 L1140.4 656.3 L1140.9 656.3 L1141.4 656.6 L1141.9 657.0 L1142.4 657.4 L1142.9 657.7 L1143.4 657.9 L1143.9 658.1 L1144.4 658.6 L1144.9 659.1 L1145.4 659.3 L1145.9 659.0 L1146.4 658.4 L1146.9 657.8 L1147.4 657.7 L1147.9 657.8 L1148.4 658.0 L1148.9 658.1 L1149.4 658.2 L1149.9 658.5 L1150.4 659.1 L1150.9 660.1 L1151.4 661.2 L1151.9 661.9 L1152.4 662.2 L1152.9 661.9 L1153.4 661.4 L1153.9 661.1 L1154.4 661.4 L1154.9 662.1 L1155.4 662.9 L1155.9 663.3 L1156.4 663.2 L1156.9 662.8 L1157.4 662.2 L1157.9 661.6 L1158.4 661.1 L1158.9 660.7 L1159.4 660.5 L1159.9 660.5 L1160.4 660.5 L1160.9 660.5 L1161.4 660.4 L1161.9 660.4 L1162.4 660.2 L1162.9 659.8 L1163.4 659.1 L1163.9 658.0 L1164.4 656.8 L1164.9 655.7 L1165.4 655.1 L1165.9 654.9 L1166.4 654.8 L1166.9 654.6 L1167.4 654.1 L1167.9 653.4 L1168.4 653.0 L1168.9 652.7 L1169.4 652.5 L1169.9 652.2 L1170.4 651.7 L1170.9 651.0 L1171.4 649.8 L1171.9 648.3 L1172.4 646.7 L1172.9 645.3 L1173.4 644.7 L1173.9 644.7 L1174.4 645.3 L1174.9 646.1 L1175.4 647.1 L1175.9 648.1 L1176.4 649.0 L1176.9 649.7 L1177.4 650.2 L1177.9 650.6 L1178.4 651.1 L1178.9 651.7 L1179.4 652.1 L1179.9 652.4 L1180.4 652.2 L1180.9 651.8 L1181.4 651.3 L1181.9 650.9 L1182.4 651.0 L1182.9 651.5 L1183.4 652.4 L1183.9 653.2 L1184.4 653.9 L1184.9 654.4 L1185.4 654.7 L1185.9 655.0 L1186.4 655.5 L1186.9 656.1 L1187.4 656.9 L1187.9 657.7 L1188.4 658.4 L1188.9 658.8 L1189.4 658.7 L1189.9 658.4 L1190.4 658.1 L1190.9 658.0 L1191.4 658.2 L1191.9 658.6 L1192.4 658.8 L1192.9 658.9 L1193.4 658.9 L1193.9 659.1 L1194.4 659.5 L1194.9 660.2 L1195.4 660.7 L1195.9 661.1 L1196.4 661.5 L1196.9 661.8 L1197.4 662.0 L1197.9 662.4 L1198.4 662.8 L1198.9 663.4 L1199.4 664.1 L1199.9 664.5 L1200.4 664.7 L1200.9 664.5 L1201.4 664.2 L1201.9 663.8 L1202.4 663.3 L1202.9 662.7 L1203.4 662.1 L1203.9 661.7 L1204.4 661.4 L1204.9 661.0 L1205.4 660.5 L1205.9 659.9 L1206.4 659.3 L1206.9 659.0 L1207.4 658.9 L1207.9 659.0 L1208.4 659.3 L1208.9 659.7 L1209.4 660.0 L1209.9 660.2 L1210.4 660.3 L1210.9 660.4 L1211.4 660.6 L1211.9 660.9 L1212.4 661.4 L1212.9 661.9 L1213.4 662.4 L1213.9 662.9 L1214.4 663.4 L1214.9 663.7 L1215.4 663.6 L1215.9 663.3 L1216.4 663.1 L1216.9 663.2 L1217.4 663.7 L1217.9 664.1 L1218.4 664.3 L1218.9 664.2 L1219.4 664.0 L1219.9 663.8 L1220.4 663.8 L1220.9 663.8 L1221.4 663.7 L1221.9 663.4 L1222.4 663.0 L1222.9 662.8 L1223.4 662.9 L1223.9 663.3 L1224.4 663.8 L1224.9 663.9 L1225.4 663.3 L1225.9 662.2 L1226.4 661.0 L1226.9 660.0 L1227.4 659.3 L1227.9 659.0 L1228.4 659.0 L1228.9 659.1 L1229.4 659.1 L1229.9 658.7 L1230.4 657.9 L1230.9 657.0 L1231.4 656.4 L1231.9 656.3 L1232.4 656.4 L1232.9 656.6 L1233.4 656.4 L1233.9 656.1 L1234.4 655.7 L1234.9 655.5 L1235.4 655.8 L1235.9 656.4 L1236.4 657.2 L1236.9 657.9 L1237.4 658.5 L1237.9 659.0 L1238.4 659.4 L1238.9 659.7 L1239.4 659.9 L1239.9 660.3 L1240.4 660.9 L1240.9 661.5 L1241.4 662.3 L1241.9 662.9 L1242.4 663.5 L1242.9 663.8 L1243.4 663.7 L1243.9 663.3 L1244.4 662.7 L1244.9 662.0 L1245.4 661.2 L1245.9 660.2 L1246.4 659.1 L1246.9 658.1 L1247.4 657.2 L1247.9 656.6 L1248.4 656.1 L1248.9 655.9 L1249.4 655.8 L1249.9 655.5 L1250.4 654.7 L1250.9 653.4 L1251.4 651.8 L1251.9 649.9 L1252.4 648.1 L1252.9 646.6 L1253.4 645.2 L1253.9 643.7 L1254.4 641.8 L1254.9 639.8 L1255.4 638.0 L1255.9 636.8 L1256.4 636.2 L1256.9 636.2 L1257.4 636.8 L1257.9 637.9 L1258.4 639.5 L1258.9 641.1 L1259.4 642.5 L1259.9 643.7 L1260.4 644.6 L1260.9 645.5 L1261.4 646.2 L1261.9 646.7 L1262.4 647.2 L1262.9 648.1 L1263.4 649.3 L1263.9 650.9 L1264.4 652.5 L1264.9 654.0 L1265.4 655.4 L1265.9 656.8 L1266.4 658.2 L1266.9 659.6 L1267.4 660.9 L1267.9 661.7 L1268.4 662.1 L1268.9 661.9 L1269.4 661.2 L1269.9 660.2 L1270.4 659.4 L1270.9 658.6 L1271.4 658.2 L1271.9 657.9 L1272.4 657.8 L1272.9 657.7 L1273.4 657.6 L1273.9 657.4 L1274.4 657.3 L1274.9 657.3 L1275.4 657.3 L1275.9 657.4 L1276.4 657.8 L1276.9 658.2 L1277.4 658.7 L1277.9 658.9 L1278.4 658.9 L1278.9 659.0 L1279.4 659.4 L1279.9 660.0 L1280.4 660.5 L1280.9 660.8 L1281.4 660.7 L1281.9 660.4 L1282.4 660.0 L1282.9 659.5 L1283.4 659.2 L1283.9 659.0 L1284.4 658.9 L1284.9 658.9 L1285.4 658.9 L1285.9 659.0 L1286.4 659.2 L1286.9 659.4 L1287.4 659.4 L1287.9 659.2 L1288.4 658.7 L1288.9 658.1 L1289.4 657.3 L1289.9 656.7 L1290.4 656.1 L1290.9 655.5 L1291.4 654.6 L1291.9 653.6 L1292.4 652.6 L1292.9 652.0 L1293.4 651.7 L1293.9 651.6 L1294.4 651.6 L1294.9 651.6 L1295.4 651.4 L1295.9 651.2 L1296.4 650.9 L1296.9 650.4 L1297.4 649.8 L1297.9 649.2 L1298.4 648.8 L1298.9 648.8 L1299.4 649.0 L1299.9 649.1 L1300.4 648.9 L1300.9 648.4 L1301.4 648.1 L1301.9 648.2 L1302.4 648.5 L1302.9 649.0 L1303.4 649.4 L1303.9 649.8 L1304.4 650.3 L1304.9 650.8 L1305.4 651.3 L1305.9 651.8 L1306.4 652.4 L1306.9 653.0 L1307.4 653.7 L1307.9 654.6 L1308.4 655.5 L1308.9 656.4 L1309.4 657.2 L1309.9 657.7 L1310.4 658.0 L1310.9 658.0 L1311.4 657.8 L1311.9 657.5 L1312.4 657.3 L1312.9 657.4 L1313.4 657.7 L1313.9 657.8"/>
</g>
<g stroke="#000" stroke-width="3.4" fill="none">
<line x1="111.9" y1="47.8" x2="111.9" y2="1018.9" stroke-width="3.8"/>
<line x1="102" y1="1017.0" x2="1314.7" y2="1017.0" stroke-width="3.8"/>
<line x1="92.5" y1="983.64" x2="111.9" y2="983.64"/>
<line x1="102" y1="950.28" x2="111.9" y2="950.28"/>
<line x1="92.5" y1="916.91" x2="111.9" y2="916.91"/>
<line x1="102" y1="883.55" x2="111.9" y2="883.55"/>
<line x1="92.5" y1="850.19" x2="111.9" y2="850.19"/>
<line x1="102" y1="816.83" x2="111.9" y2="816.83"/>
<line x1="92.5" y1="783.47" x2="111.9" y2="783.47"/>
<line x1="102" y1="750.10" x2="111.9" y2="750.10"/>
<line x1="92.5" y1="716.74" x2="111.9" y2="716.74"/>
<line x1="102" y1="683.38" x2="111.9" y2="683.38"/>
<line x1="92.5" y1="650.02" x2="111.9" y2="650.02"/>
<line x1="102" y1="616.66" x2="111.9" y2="616.66"/>
<line x1="92.5" y1="583.29" x2="111.9" y2="583.29"/>
<line x1="102" y1="549.93" x2="111.9" y2="549.93"/>
<line x1="92.5" y1="516.57" x2="111.9" y2="516.57"/>
<line x1="102" y1="483.21" x2="111.9" y2="483.21"/>
<line x1="92.5" y1="449.84" x2="111.9" y2="449.84"/>
<line x1="102" y1="416.48" x2="111.9" y2="416.48"/>
<line x1="92.5" y1="383.12" x2="111.9" y2="383.12"/>
<line x1="102" y1="349.76" x2="111.9" y2="349.76"/>
<line x1="92.5" y1="316.40" x2="111.9" y2="316.40"/>
<line x1="102" y1="283.03" x2="111.9" y2="283.03"/>
<line x1="92.5" y1="249.67" x2="111.9" y2="249.67"/>
<line x1="102" y1="216.31" x2="111.9" y2="216.31"/>
<line x1="92.5" y1="182.95" x2="111.9" y2="182.95"/>
<line x1="102" y1="149.59" x2="111.9" y2="149.59"/>
<line x1="92.5" y1="116.22" x2="111.9" y2="116.22"/>
<line x1="102" y1="82.86" x2="111.9" y2="82.86"/>
<line x1="92.5" y1="49.50" x2="111.9" y2="49.50"/>
<line x1="111.9" y1="1017.0" x2="111.9" y2="1025.8" stroke-width="3.6"/>
<line x1="283.4" y1="1017.0" x2="283.4" y2="1034.8" stroke-width="3.6"/>
<line x1="454.9" y1="1017.0" x2="454.9" y2="1025.8" stroke-width="3.6"/>
<line x1="626.5" y1="1017.0" x2="626.5" y2="1034.8" stroke-width="3.6"/>
<line x1="798.0" y1="1017.0" x2="798.0" y2="1025.8" stroke-width="3.6"/>
<line x1="969.5" y1="1017.0" x2="969.5" y2="1034.8" stroke-width="3.6"/>
<line x1="1141.0" y1="1017.0" x2="1141.0" y2="1025.8" stroke-width="3.6"/>
<line x1="1312.5" y1="1017.0" x2="1312.5" y2="1034.8" stroke-width="3.6"/>
</g>
<g font-family="'Liberation Serif', serif" font-size="43.3" text-anchor="middle" fill="#000" stroke="#fff" stroke-width="0.75">
<text x="283.1" y="1084.5" textLength="42.0" lengthAdjust="spacingAndGlyphs">20</text>
<text x="626.2" y="1084.5" textLength="42.0" lengthAdjust="spacingAndGlyphs">40</text>
<text x="969.2" y="1084.5" textLength="42.0" lengthAdjust="spacingAndGlyphs">60</text>
<text x="1312.2" y="1084.5" textLength="42.0" lengthAdjust="spacingAndGlyphs">80</text>
</g>
<g font-family="'Liberation Serif', serif" fill="#000">
<text x="712.3" y="1153.2" font-size="49.5" text-anchor="middle" textLength="145" lengthAdjust="spacingAndGlyphs">Degree</text>
<text transform="translate(58.7 531.6) rotate(-90)" font-size="49.5" text-anchor="middle" textLength="353" lengthAdjust="spacingAndGlyphs">Relative Intensity</text>
<rect x="719.7" y="32.9" width="537.1" height="142.1" fill="#fff" stroke="#000" stroke-width="1.3"/>
<line x1="728.5" y1="66.8" x2="837.7" y2="66.8" stroke="#00ffff" stroke-width="8" stroke-linecap="round"/>
<line x1="728.5" y1="140.6" x2="837.7" y2="140.6" stroke="#00ff00" stroke-width="8" stroke-linecap="round"/>
<text x="851.3" y="84.1" font-size="48.5" textLength="92" lengthAdjust="spacingAndGlyphs">CeO</text>
<text x="943.4" y="98.1" font-size="34">2</text>
<text x="853.2" y="157.3" font-size="48.5" textLength="395.5" lengthAdjust="spacingAndGlyphs">10 wt.% Fe-loading</text>
<rect x="131.5" y="729.5" width="191.4" height="226.2" fill="#fff" stroke="#000" stroke-width="1.2"/>
<text x="139.1" y="780.3" font-size="50.5" textLength="92" lengthAdjust="spacingAndGlyphs">CeO</text>
<text x="231" y="794.3" font-size="34">2</text>
<g fill="#ff0000">
<text x="139.1" y="853.8" font-size="50.5" textLength="141.5" lengthAdjust="spacingAndGlyphs">CeFeO</text>
<text x="281.8" y="867.6" font-size="34">3</text>
</g><g fill="#c0c0c0">
<text x="139.7" y="927.5" font-size="50.5" textLength="106.8" lengthAdjust="spacingAndGlyphs">FeCe</text>
<text x="244.8" y="941.3" font-size="34">2</text>
<text x="262.1" y="927.5" font-size="50.5" textLength="37.8" lengthAdjust="spacingAndGlyphs">O</text>
<text x="298.4" y="941.3" font-size="34">4</text>
</g>
</g>
<g font-family="'Liberation Serif', serif" font-weight="bold" font-size="36.6" text-anchor="middle">
<text transform="translate(447.33 769.40) rotate(-90)" fill="#000" textLength="80.8" lengthAdjust="spacingAndGlyphs">(111)</text>
<text transform="translate(533.93 771.60) rotate(-90)" fill="#000" textLength="80.3" lengthAdjust="spacingAndGlyphs">(200)</text>
<text transform="translate(778.93 769.00) rotate(-90)" fill="#000" textLength="80.3" lengthAdjust="spacingAndGlyphs">(220)</text>
<text transform="translate(926.93 768.50) rotate(-90)" fill="#000" textLength="81.6" lengthAdjust="spacingAndGlyphs">(311)</text>
<text transform="translate(982.13 758.40) rotate(-90)" fill="#000" textLength="80.3" lengthAdjust="spacingAndGlyphs">(222)</text>
<text transform="translate(1161.33 762.30) rotate(-90)" fill="#000" textLength="80.8" lengthAdjust="spacingAndGlyphs">(400)</text>
<text transform="translate(1270.93 755.30) rotate(-90)" fill="#000" textLength="80.8" lengthAdjust="spacingAndGlyphs">(331)</text>
<text transform="translate(1320.33 758.50) rotate(-90)" fill="#000" textLength="81.9" lengthAdjust="spacingAndGlyphs">(420)</text>
<text transform="translate(392.23 873.30) rotate(-90)" fill="#f00" textLength="79.0" lengthAdjust="spacingAndGlyphs">(111)</text>
<text transform="translate(479.63 869.70) rotate(-90)" fill="#f00" textLength="79.4" lengthAdjust="spacingAndGlyphs">(112)</text>
<text transform="translate(549.63 866.00) rotate(-90)" fill="#f00" textLength="79.3" lengthAdjust="spacingAndGlyphs">(021)</text>
<text transform="translate(617.83 856.20) rotate(-90)" fill="#f00" textLength="77.2" lengthAdjust="spacingAndGlyphs">(211)</text>
<text transform="translate(713.53 869.10) rotate(-90)" fill="#f00" textLength="78.8" lengthAdjust="spacingAndGlyphs">(004)</text>
<text transform="translate(923.13 863.00) rotate(-90)" fill="#f00" textLength="80.8" lengthAdjust="spacingAndGlyphs">(023)</text>
<text transform="translate(1004.23 863.00) rotate(-90)" fill="#f00" textLength="78.3" lengthAdjust="spacingAndGlyphs">(231)</text>
<text transform="translate(1088.13 859.50) rotate(-90)" fill="#f00" textLength="79.3" lengthAdjust="spacingAndGlyphs">(041)</text>
<text transform="translate(1239.03 866.30) rotate(-90)" fill="#f00" textLength="79.5" lengthAdjust="spacingAndGlyphs">(116)</text>
</g>
</svg>
</body></html>
